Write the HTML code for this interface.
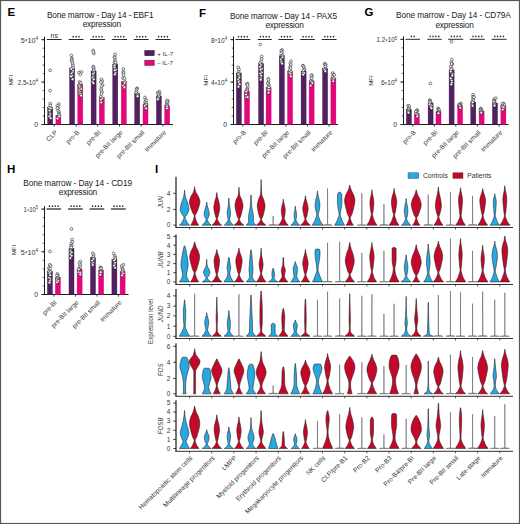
<!DOCTYPE html>
<html><head><meta charset="utf-8"><style>
html,body{margin:0;padding:0;background:#fff;}
svg{display:block;}
text{font-family:"Liberation Sans", sans-serif;}
</style></head><body>
<svg width="520" height="524" viewBox="0 0 520 524" font-family='"Liberation Sans", sans-serif'>
<rect x="0" y="0" width="520" height="524" fill="#fff"/>
<text x="7.5" y="16.4" font-size="11.5" font-weight="bold">E</text>
<text x="47.0" y="17.8" font-size="8.3" textLength="106.5" lengthAdjust="spacing" fill="#222">Bone marrow - Day 14 - EBF1</text>
<text x="82.7" y="27.2" font-size="8.3" textLength="38.4" lengthAdjust="spacing" fill="#222">expression</text>
<path d="M44.5 36.7V124.5H173" fill="none" stroke="#1a1a1a" stroke-width="1"/>
<path d="M42.7 124.5H44.5" stroke="#1a1a1a" stroke-width="0.7"/>
<path d="M42.7 116.0H44.5" stroke="#1a1a1a" stroke-width="0.7"/>
<path d="M42.7 107.5H44.5" stroke="#1a1a1a" stroke-width="0.7"/>
<path d="M42.7 99.1H44.5" stroke="#1a1a1a" stroke-width="0.7"/>
<path d="M42.7 90.6H44.5" stroke="#1a1a1a" stroke-width="0.7"/>
<path d="M42.7 82.1H44.5" stroke="#1a1a1a" stroke-width="0.7"/>
<path d="M42.7 73.6H44.5" stroke="#1a1a1a" stroke-width="0.7"/>
<path d="M42.7 65.1H44.5" stroke="#1a1a1a" stroke-width="0.7"/>
<path d="M42.7 56.7H44.5" stroke="#1a1a1a" stroke-width="0.7"/>
<path d="M42.7 48.2H44.5" stroke="#1a1a1a" stroke-width="0.7"/>
<path d="M42.7 39.7H44.5" stroke="#1a1a1a" stroke-width="0.7"/>
<path d="M41.3 39.7H44.5" stroke="#1a1a1a" stroke-width="0.9"/>
<text x="38.1" y="42.6" font-size="6.8" text-anchor="end" textLength="17.3" lengthAdjust="spacingAndGlyphs" fill="#333">5<tspan font-size="4.6" dy="-0.3">×</tspan><tspan dy="0.3">10</tspan><tspan font-size="4.6" dy="-2.8">4</tspan></text>
<path d="M41.3 82.1H44.5" stroke="#1a1a1a" stroke-width="0.9"/>
<text x="38.1" y="85.0" font-size="6.8" text-anchor="end" textLength="20.4" lengthAdjust="spacingAndGlyphs" fill="#333">2.5<tspan font-size="4.6" dy="-0.3">×</tspan><tspan dy="0.3">10</tspan><tspan font-size="4.6" dy="-2.8">4</tspan></text>
<path d="M41.3 124.5H44.5" stroke="#1a1a1a" stroke-width="0.9"/>
<text x="38.1" y="127.1" font-size="6.8" text-anchor="end" fill="#333">0</text>
<rect x="47.7" y="107.5" width="5" height="17.0" fill="#50205f" stroke="#3a1048" stroke-width="0.4"/>
<rect x="55.9" y="115.5" width="5" height="9.0" fill="#e6057f" stroke="#b8085f" stroke-width="0.4"/>
<rect x="69.6" y="68" width="5" height="56.5" fill="#50205f" stroke="#3a1048" stroke-width="0.4"/>
<rect x="77.8" y="84.5" width="5" height="40.0" fill="#e6057f" stroke="#b8085f" stroke-width="0.4"/>
<rect x="91.1" y="71" width="5" height="53.5" fill="#50205f" stroke="#3a1048" stroke-width="0.4"/>
<rect x="99.3" y="97.5" width="5" height="27.0" fill="#e6057f" stroke="#b8085f" stroke-width="0.4"/>
<rect x="112.8" y="64" width="5" height="60.5" fill="#50205f" stroke="#3a1048" stroke-width="0.4"/>
<rect x="121.3" y="81.5" width="5" height="43.0" fill="#e6057f" stroke="#b8085f" stroke-width="0.4"/>
<rect x="134.7" y="93.6" width="5" height="30.9" fill="#50205f" stroke="#3a1048" stroke-width="0.4"/>
<rect x="143.0" y="104" width="5" height="20.5" fill="#e6057f" stroke="#b8085f" stroke-width="0.4"/>
<rect x="156.4" y="96" width="5" height="28.5" fill="#50205f" stroke="#3a1048" stroke-width="0.4"/>
<rect x="164.7" y="105.5" width="5" height="19.0" fill="#e6057f" stroke="#b8085f" stroke-width="0.4"/>
<g fill="#fff" stroke="#1a1a1a" stroke-width="0.55">
<circle cx="50.2" cy="103.6" r="1.4"/><circle cx="50.3" cy="105.5" r="1.4"/><circle cx="49.2" cy="107.7" r="1.4"/><circle cx="50.8" cy="108.5" r="1.4"/><circle cx="49.6" cy="110.6" r="1.4"/><circle cx="50.0" cy="113.5" r="1.4"/><circle cx="50.1" cy="115.0" r="1.4"/><circle cx="49.4" cy="116.5" r="1.4"/><circle cx="50.8" cy="118.2" r="1.4"/>
<circle cx="58.8" cy="104.0" r="1.4"/><circle cx="57.4" cy="105.8" r="1.4"/><circle cx="58.5" cy="107.5" r="1.4"/><circle cx="57.4" cy="108.3" r="1.4"/><circle cx="58.2" cy="110.8" r="1.4"/><circle cx="59.1" cy="112.1" r="1.4"/><circle cx="59.1" cy="113.7" r="1.4"/><circle cx="58.9" cy="114.7" r="1.4"/><circle cx="59.2" cy="116.4" r="1.4"/><circle cx="57.5" cy="118.6" r="1.4"/>
<circle cx="50.1" cy="70.4" r="1.4"/>
<circle cx="50.1" cy="90.6" r="1.4"/>
<circle cx="71.4" cy="55.4" r="1.4"/><circle cx="71.9" cy="58.3" r="1.4"/><circle cx="71.6" cy="59.4" r="1.4"/><circle cx="71.8" cy="60.8" r="1.4"/><circle cx="72.2" cy="62.2" r="1.4"/><circle cx="72.8" cy="64.1" r="1.4"/><circle cx="72.9" cy="65.9" r="1.4"/><circle cx="73.0" cy="67.8" r="1.4"/><circle cx="71.3" cy="69.1" r="1.4"/><circle cx="72.9" cy="71.0" r="1.4"/><circle cx="72.1" cy="72.6" r="1.4"/><circle cx="71.4" cy="73.9" r="1.4"/><circle cx="72.1" cy="75.7" r="1.4"/><circle cx="71.1" cy="76.5" r="1.4"/><circle cx="73.0" cy="79.0" r="1.4"/><circle cx="72.6" cy="79.3" r="1.4"/>
<circle cx="79.5" cy="81.9" r="1.4"/><circle cx="80.7" cy="82.8" r="1.4"/><circle cx="79.3" cy="84.9" r="1.4"/><circle cx="79.3" cy="85.7" r="1.4"/><circle cx="79.9" cy="87.0" r="1.4"/><circle cx="81.2" cy="88.4" r="1.4"/><circle cx="81.2" cy="89.0" r="1.4"/><circle cx="79.4" cy="89.9" r="1.4"/><circle cx="79.3" cy="91.5" r="1.4"/><circle cx="80.0" cy="92.0" r="1.4"/><circle cx="79.5" cy="93.8" r="1.4"/><circle cx="80.9" cy="94.1" r="1.4"/><circle cx="81.1" cy="95.7" r="1.4"/>
<circle cx="79" cy="72.5" r="1.4"/>
<circle cx="81.5" cy="72" r="1.4"/>
<circle cx="80.3" cy="74.3" r="1.4"/>
<circle cx="93.3" cy="66.6" r="1.4"/><circle cx="93.5" cy="67.4" r="1.4"/><circle cx="93.7" cy="69.1" r="1.4"/><circle cx="93.7" cy="70.3" r="1.4"/><circle cx="93.5" cy="72.4" r="1.4"/><circle cx="93.9" cy="73.0" r="1.4"/><circle cx="93.1" cy="74.1" r="1.4"/><circle cx="93.5" cy="76.7" r="1.4"/><circle cx="92.5" cy="77.4" r="1.4"/><circle cx="93.7" cy="78.6" r="1.4"/><circle cx="93.7" cy="79.4" r="1.4"/><circle cx="92.6" cy="81.8" r="1.4"/><circle cx="93.4" cy="83.2" r="1.4"/>
<circle cx="101.4" cy="79.3" r="1.4"/><circle cx="102.2" cy="81.2" r="1.4"/><circle cx="100.8" cy="82.1" r="1.4"/><circle cx="102.6" cy="85.0" r="1.4"/><circle cx="101.6" cy="86.3" r="1.4"/><circle cx="101.3" cy="88.7" r="1.4"/><circle cx="101.3" cy="90.3" r="1.4"/><circle cx="101.9" cy="92.2" r="1.4"/><circle cx="101.5" cy="94.0" r="1.4"/><circle cx="100.8" cy="96.7" r="1.4"/><circle cx="102.2" cy="98.3" r="1.4"/><circle cx="101.1" cy="99.8" r="1.4"/><circle cx="101.2" cy="102.5" r="1.4"/>
<circle cx="93.2" cy="50.5" r="1.4"/>
<circle cx="94" cy="53.5" r="1.4"/>
<circle cx="93.3" cy="52" r="1.4"/>
<circle cx="115.1" cy="54.5" r="1.4"/><circle cx="114.4" cy="56.9" r="1.4"/><circle cx="114.9" cy="57.9" r="1.4"/><circle cx="115.1" cy="60.3" r="1.4"/><circle cx="114.5" cy="61.9" r="1.4"/><circle cx="115.5" cy="62.7" r="1.4"/><circle cx="115.1" cy="65.1" r="1.4"/><circle cx="114.4" cy="65.6" r="1.4"/><circle cx="114.6" cy="67.7" r="1.4"/><circle cx="115.9" cy="69.7" r="1.4"/><circle cx="114.8" cy="70.3" r="1.4"/><circle cx="115.5" cy="72.9" r="1.4"/><circle cx="114.9" cy="74.5" r="1.4"/>
<circle cx="123.3" cy="68.9" r="1.4"/><circle cx="123.2" cy="71.9" r="1.4"/><circle cx="123.5" cy="73.1" r="1.4"/><circle cx="123.5" cy="75.2" r="1.4"/><circle cx="123.0" cy="78.0" r="1.4"/><circle cx="124.6" cy="78.4" r="1.4"/><circle cx="124.7" cy="81.8" r="1.4"/><circle cx="124.6" cy="83.0" r="1.4"/><circle cx="123.1" cy="85.7" r="1.4"/><circle cx="124.4" cy="87.4" r="1.4"/>
<circle cx="137.1" cy="88.3" r="1.4"/><circle cx="136.8" cy="88.8" r="1.4"/><circle cx="136.2" cy="89.8" r="1.4"/><circle cx="136.7" cy="91.5" r="1.4"/><circle cx="136.2" cy="93.0" r="1.4"/><circle cx="137.5" cy="94.3" r="1.4"/><circle cx="137.9" cy="95.4" r="1.4"/><circle cx="137.3" cy="96.5" r="1.4"/><circle cx="137.6" cy="96.2" r="1.4"/>
<circle cx="145.0" cy="97.5" r="1.4"/><circle cx="145.4" cy="99.6" r="1.4"/><circle cx="146.3" cy="100.6" r="1.4"/><circle cx="145.1" cy="102.3" r="1.4"/><circle cx="146.1" cy="103.1" r="1.4"/><circle cx="146.0" cy="104.8" r="1.4"/><circle cx="144.8" cy="106.0" r="1.4"/><circle cx="146.0" cy="107.7" r="1.4"/><circle cx="146.0" cy="108.5" r="1.4"/>
<circle cx="159.4" cy="91.7" r="1.4"/><circle cx="157.8" cy="92.6" r="1.4"/><circle cx="159.5" cy="93.5" r="1.4"/><circle cx="158.3" cy="93.7" r="1.4"/><circle cx="158.9" cy="95.1" r="1.4"/><circle cx="158.7" cy="96.5" r="1.4"/><circle cx="157.8" cy="98.2" r="1.4"/><circle cx="158.1" cy="98.2" r="1.4"/><circle cx="157.9" cy="99.4" r="1.4"/>
<circle cx="167.8" cy="100.8" r="1.4"/><circle cx="167.1" cy="100.5" r="1.4"/><circle cx="166.7" cy="102.0" r="1.4"/><circle cx="167.4" cy="103.2" r="1.4"/><circle cx="166.8" cy="104.7" r="1.4"/><circle cx="166.8" cy="105.2" r="1.4"/><circle cx="167.2" cy="106.3" r="1.4"/><circle cx="166.9" cy="108.3" r="1.4"/>
</g>
<path d="M54.2 124.5v2.2" stroke="#1a1a1a" stroke-width="0.8"/>
<text transform="translate(57.8,132.9) rotate(-45)" font-size="6.5" text-anchor="end" fill="#333">CLP</text>
<path d="M76.1 124.5v2.2" stroke="#1a1a1a" stroke-width="0.8"/>
<text transform="translate(79.7,132.9) rotate(-45)" font-size="6.5" text-anchor="end" fill="#333">pro-B</text>
<path d="M97.6 124.5v2.2" stroke="#1a1a1a" stroke-width="0.8"/>
<text transform="translate(101.2,132.9) rotate(-45)" font-size="6.5" text-anchor="end" fill="#333">pre-BI</text>
<path d="M119.5 124.5v2.2" stroke="#1a1a1a" stroke-width="0.8"/>
<text transform="translate(123.0,132.9) rotate(-45)" font-size="6.5" text-anchor="end" fill="#333">pre-BII large</text>
<path d="M141.2 124.5v2.2" stroke="#1a1a1a" stroke-width="0.8"/>
<text transform="translate(144.8,132.9) rotate(-45)" font-size="6.5" text-anchor="end" fill="#333">pre-BII small</text>
<path d="M162.9 124.5v2.2" stroke="#1a1a1a" stroke-width="0.8"/>
<text transform="translate(166.5,132.9) rotate(-45)" font-size="6.5" text-anchor="end" fill="#333">immature</text>
<path d="M46.8 39.5H61.6" stroke="#2a2a2a" stroke-width="1.0"/>
<text x="54.2" y="37.9" font-size="7" text-anchor="middle" fill="#333">ns</text>
<path d="M68.7 39.5H83.5" stroke="#2a2a2a" stroke-width="1.0"/>
<ellipse cx="73.20" cy="36.65" rx="0.75" ry="0.9" fill="#2a2a2a"/>
<ellipse cx="76.10" cy="36.65" rx="0.75" ry="0.9" fill="#2a2a2a"/>
<ellipse cx="79.00" cy="36.65" rx="0.75" ry="0.9" fill="#2a2a2a"/>
<path d="M90.2 39.5H105.0" stroke="#2a2a2a" stroke-width="1.0"/>
<ellipse cx="93.25" cy="36.65" rx="0.75" ry="0.9" fill="#2a2a2a"/>
<ellipse cx="96.15" cy="36.65" rx="0.75" ry="0.9" fill="#2a2a2a"/>
<ellipse cx="99.05" cy="36.65" rx="0.75" ry="0.9" fill="#2a2a2a"/>
<ellipse cx="101.95" cy="36.65" rx="0.75" ry="0.9" fill="#2a2a2a"/>
<path d="M111.9 39.5H127.0" stroke="#2a2a2a" stroke-width="1.0"/>
<ellipse cx="115.10" cy="36.65" rx="0.75" ry="0.9" fill="#2a2a2a"/>
<ellipse cx="118.00" cy="36.65" rx="0.75" ry="0.9" fill="#2a2a2a"/>
<ellipse cx="120.90" cy="36.65" rx="0.75" ry="0.9" fill="#2a2a2a"/>
<ellipse cx="123.80" cy="36.65" rx="0.75" ry="0.9" fill="#2a2a2a"/>
<path d="M133.8 39.5H148.7" stroke="#2a2a2a" stroke-width="1.0"/>
<ellipse cx="136.90" cy="36.65" rx="0.75" ry="0.9" fill="#2a2a2a"/>
<ellipse cx="139.80" cy="36.65" rx="0.75" ry="0.9" fill="#2a2a2a"/>
<ellipse cx="142.70" cy="36.65" rx="0.75" ry="0.9" fill="#2a2a2a"/>
<ellipse cx="145.60" cy="36.65" rx="0.75" ry="0.9" fill="#2a2a2a"/>
<path d="M155.5 39.5H170.4" stroke="#2a2a2a" stroke-width="1.0"/>
<ellipse cx="158.60" cy="36.65" rx="0.75" ry="0.9" fill="#2a2a2a"/>
<ellipse cx="161.50" cy="36.65" rx="0.75" ry="0.9" fill="#2a2a2a"/>
<ellipse cx="164.40" cy="36.65" rx="0.75" ry="0.9" fill="#2a2a2a"/>
<ellipse cx="167.30" cy="36.65" rx="0.75" ry="0.9" fill="#2a2a2a"/>
<rect x="144.8" y="50.5" width="9.4" height="5.2" fill="#50205f" stroke="#2a1030" stroke-width="0.5"/>
<rect x="144.8" y="60.2" width="9.4" height="5.2" fill="#e6057f" stroke="#5a0a30" stroke-width="0.5"/>
<text x="157.2" y="55.5" font-size="6.2" font-family="&quot;Liberation Serif&quot;, serif" fill="#333">+ IL-7</text>
<text x="157.2" y="64.5" font-size="6.2" font-family="&quot;Liberation Serif&quot;, serif" fill="#333">– IL-7</text>
<text transform="translate(13.2,80) rotate(-90)" font-size="6.2" text-anchor="middle" fill="#333">MFI</text>
<text x="199" y="16.6" font-size="11.5" font-weight="bold">F</text>
<text x="229.9" y="18.8" font-size="8.3" textLength="107.1" lengthAdjust="spacing" fill="#222">Bone marrow - Day 14 - PAX5</text>
<text x="265.4" y="28.2" font-size="8.3" textLength="38.4" lengthAdjust="spacing" fill="#222">expression</text>
<path d="M233.5 36.6V124.5H338" fill="none" stroke="#1a1a1a" stroke-width="1"/>
<path d="M231.7 124.5H233.5" stroke="#1a1a1a" stroke-width="0.7"/>
<path d="M231.7 116.0H233.5" stroke="#1a1a1a" stroke-width="0.7"/>
<path d="M231.7 107.5H233.5" stroke="#1a1a1a" stroke-width="0.7"/>
<path d="M231.7 99.0H233.5" stroke="#1a1a1a" stroke-width="0.7"/>
<path d="M231.7 90.5H233.5" stroke="#1a1a1a" stroke-width="0.7"/>
<path d="M231.7 82.0H233.5" stroke="#1a1a1a" stroke-width="0.7"/>
<path d="M231.7 73.6H233.5" stroke="#1a1a1a" stroke-width="0.7"/>
<path d="M231.7 65.1H233.5" stroke="#1a1a1a" stroke-width="0.7"/>
<path d="M231.7 56.6H233.5" stroke="#1a1a1a" stroke-width="0.7"/>
<path d="M231.7 48.1H233.5" stroke="#1a1a1a" stroke-width="0.7"/>
<path d="M231.7 39.6H233.5" stroke="#1a1a1a" stroke-width="0.7"/>
<path d="M230.3 39.6H233.5" stroke="#1a1a1a" stroke-width="0.9"/>
<text x="227.1" y="42.5" font-size="6.8" text-anchor="end" textLength="16.0" lengthAdjust="spacingAndGlyphs" fill="#333">8<tspan font-size="4.6" dy="-0.3">×</tspan><tspan dy="0.3">10</tspan><tspan font-size="4.6" dy="-2.8">4</tspan></text>
<path d="M230.3 82.0H233.5" stroke="#1a1a1a" stroke-width="0.9"/>
<text x="227.1" y="85.0" font-size="6.8" text-anchor="end" textLength="16.0" lengthAdjust="spacingAndGlyphs" fill="#333">4<tspan font-size="4.6" dy="-0.3">×</tspan><tspan dy="0.3">10</tspan><tspan font-size="4.6" dy="-2.8">4</tspan></text>
<path d="M230.3 124.5H233.5" stroke="#1a1a1a" stroke-width="0.9"/>
<text x="227.1" y="127.1" font-size="6.8" text-anchor="end" fill="#333">0</text>
<rect x="236.4" y="73" width="5" height="51.5" fill="#50205f" stroke="#3a1048" stroke-width="0.4"/>
<rect x="244.5" y="91" width="5" height="33.5" fill="#e6057f" stroke="#b8085f" stroke-width="0.4"/>
<rect x="258.6" y="63.5" width="5" height="61.0" fill="#50205f" stroke="#3a1048" stroke-width="0.4"/>
<rect x="266.1" y="87.5" width="5" height="37.0" fill="#e6057f" stroke="#b8085f" stroke-width="0.4"/>
<rect x="279.3" y="55.8" width="5" height="68.7" fill="#50205f" stroke="#3a1048" stroke-width="0.4"/>
<rect x="287.6" y="71" width="5" height="53.5" fill="#e6057f" stroke="#b8085f" stroke-width="0.4"/>
<rect x="301.1" y="71" width="5" height="53.5" fill="#50205f" stroke="#3a1048" stroke-width="0.4"/>
<rect x="309.1" y="80.8" width="5" height="43.7" fill="#e6057f" stroke="#b8085f" stroke-width="0.4"/>
<rect x="322.6" y="68.3" width="5" height="56.2" fill="#50205f" stroke="#3a1048" stroke-width="0.4"/>
<rect x="330.90000000000003" y="78" width="5" height="46.5" fill="#e6057f" stroke="#b8085f" stroke-width="0.4"/>
<g fill="#fff" stroke="#1a1a1a" stroke-width="0.55">
<circle cx="238.2" cy="67.3" r="1.4"/><circle cx="239.0" cy="69.4" r="1.4"/><circle cx="238.6" cy="71.7" r="1.4"/><circle cx="239.0" cy="73.4" r="1.4"/><circle cx="238.5" cy="74.4" r="1.4"/><circle cx="239.2" cy="76.2" r="1.4"/><circle cx="239.2" cy="77.7" r="1.4"/><circle cx="238.3" cy="79.4" r="1.4"/><circle cx="239.2" cy="81.1" r="1.4"/><circle cx="238.6" cy="82.0" r="1.4"/><circle cx="239.6" cy="84.2" r="1.4"/><circle cx="238.5" cy="86.7" r="1.4"/>
<circle cx="247.5" cy="83.6" r="1.4"/><circle cx="246.8" cy="84.0" r="1.4"/><circle cx="247.5" cy="85.1" r="1.4"/><circle cx="247.7" cy="87.4" r="1.4"/><circle cx="247.2" cy="88.9" r="1.4"/><circle cx="247.0" cy="90.2" r="1.4"/><circle cx="247.1" cy="90.5" r="1.4"/><circle cx="246.2" cy="91.8" r="1.4"/><circle cx="246.0" cy="94.3" r="1.4"/><circle cx="246.1" cy="94.6" r="1.4"/><circle cx="246.3" cy="97.2" r="1.4"/><circle cx="247.6" cy="97.2" r="1.4"/>
<circle cx="261.7" cy="56.4" r="1.4"/><circle cx="261.7" cy="59.2" r="1.4"/><circle cx="261.2" cy="61.6" r="1.4"/><circle cx="260.1" cy="63.2" r="1.4"/><circle cx="261.0" cy="65.1" r="1.4"/><circle cx="260.2" cy="66.9" r="1.4"/><circle cx="261.9" cy="68.9" r="1.4"/><circle cx="260.6" cy="69.7" r="1.4"/><circle cx="261.7" cy="72.4" r="1.4"/><circle cx="260.4" cy="73.8" r="1.4"/><circle cx="261.2" cy="75.8" r="1.4"/><circle cx="260.8" cy="78.5" r="1.4"/><circle cx="260.8" cy="79.8" r="1.4"/>
<circle cx="268.3" cy="78.8" r="1.4"/><circle cx="268.5" cy="79.8" r="1.4"/><circle cx="268.3" cy="82.6" r="1.4"/><circle cx="267.8" cy="83.7" r="1.4"/><circle cx="269.0" cy="85.1" r="1.4"/><circle cx="268.5" cy="86.5" r="1.4"/><circle cx="268.8" cy="87.6" r="1.4"/><circle cx="267.8" cy="89.7" r="1.4"/><circle cx="269.0" cy="89.9" r="1.4"/><circle cx="268.5" cy="92.7" r="1.4"/>
<circle cx="260.3" cy="44.5" r="1.4"/>
<circle cx="282.1" cy="49.9" r="1.4"/><circle cx="281.2" cy="50.8" r="1.4"/><circle cx="281.9" cy="52.1" r="1.4"/><circle cx="281.2" cy="53.5" r="1.4"/><circle cx="282.6" cy="55.4" r="1.4"/><circle cx="282.1" cy="56.0" r="1.4"/><circle cx="282.4" cy="57.5" r="1.4"/><circle cx="281.2" cy="59.0" r="1.4"/><circle cx="280.7" cy="59.7" r="1.4"/><circle cx="281.5" cy="61.4" r="1.4"/><circle cx="281.4" cy="62.2" r="1.4"/><circle cx="282.2" cy="63.7" r="1.4"/>
<circle cx="291.0" cy="61.4" r="1.4"/><circle cx="290.2" cy="63.5" r="1.4"/><circle cx="290.7" cy="65.1" r="1.4"/><circle cx="290.1" cy="67.2" r="1.4"/><circle cx="290.4" cy="68.2" r="1.4"/><circle cx="289.8" cy="70.3" r="1.4"/><circle cx="290.9" cy="71.7" r="1.4"/><circle cx="289.5" cy="72.8" r="1.4"/><circle cx="290.4" cy="74.0" r="1.4"/><circle cx="290.9" cy="76.3" r="1.4"/>
<circle cx="303.0" cy="65.6" r="1.4"/><circle cx="303.0" cy="65.8" r="1.4"/><circle cx="303.9" cy="67.0" r="1.4"/><circle cx="304.3" cy="69.3" r="1.4"/><circle cx="304.2" cy="69.6" r="1.4"/><circle cx="303.3" cy="71.0" r="1.4"/><circle cx="302.7" cy="72.9" r="1.4"/><circle cx="304.2" cy="73.1" r="1.4"/><circle cx="303.2" cy="74.7" r="1.4"/>
<circle cx="311.9" cy="75.1" r="1.4"/><circle cx="311.2" cy="75.5" r="1.4"/><circle cx="311.5" cy="77.4" r="1.4"/><circle cx="311.7" cy="78.3" r="1.4"/><circle cx="311.3" cy="80.7" r="1.4"/><circle cx="310.7" cy="81.3" r="1.4"/><circle cx="311.8" cy="82.1" r="1.4"/><circle cx="312.3" cy="83.1" r="1.4"/><circle cx="310.7" cy="85.7" r="1.4"/>
<circle cx="324.7" cy="63.7" r="1.4"/><circle cx="325.5" cy="64.4" r="1.4"/><circle cx="325.4" cy="64.7" r="1.4"/><circle cx="325.6" cy="66.2" r="1.4"/><circle cx="325.5" cy="66.6" r="1.4"/><circle cx="325.3" cy="68.7" r="1.4"/><circle cx="324.2" cy="69.1" r="1.4"/><circle cx="324.7" cy="70.0" r="1.4"/><circle cx="325.4" cy="71.3" r="1.4"/>
<circle cx="332.7" cy="73.1" r="1.4"/><circle cx="333.6" cy="74.4" r="1.4"/><circle cx="334.1" cy="74.8" r="1.4"/><circle cx="332.5" cy="76.7" r="1.4"/><circle cx="332.6" cy="78.3" r="1.4"/><circle cx="333.7" cy="78.4" r="1.4"/><circle cx="333.4" cy="80.0" r="1.4"/><circle cx="333.2" cy="81.2" r="1.4"/>
</g>
<path d="M242.9 124.5v2.2" stroke="#1a1a1a" stroke-width="0.8"/>
<text transform="translate(246.5,132.9) rotate(-45)" font-size="6.5" text-anchor="end" fill="#333">pro-B</text>
<path d="M264.8 124.5v2.2" stroke="#1a1a1a" stroke-width="0.8"/>
<text transform="translate(268.4,132.9) rotate(-45)" font-size="6.5" text-anchor="end" fill="#333">pre-BI</text>
<path d="M285.9 124.5v2.2" stroke="#1a1a1a" stroke-width="0.8"/>
<text transform="translate(289.5,132.9) rotate(-45)" font-size="6.5" text-anchor="end" fill="#333">pre-BII large</text>
<path d="M307.5 124.5v2.2" stroke="#1a1a1a" stroke-width="0.8"/>
<text transform="translate(311.1,132.9) rotate(-45)" font-size="6.5" text-anchor="end" fill="#333">pre-BII small</text>
<path d="M329.1 124.5v2.2" stroke="#1a1a1a" stroke-width="0.8"/>
<text transform="translate(332.8,132.9) rotate(-45)" font-size="6.5" text-anchor="end" fill="#333">immature</text>
<path d="M235.5 39.5H250.2" stroke="#2a2a2a" stroke-width="1.0"/>
<ellipse cx="238.50" cy="36.65" rx="0.75" ry="0.9" fill="#2a2a2a"/>
<ellipse cx="241.40" cy="36.65" rx="0.75" ry="0.9" fill="#2a2a2a"/>
<ellipse cx="244.30" cy="36.65" rx="0.75" ry="0.9" fill="#2a2a2a"/>
<ellipse cx="247.20" cy="36.65" rx="0.75" ry="0.9" fill="#2a2a2a"/>
<path d="M257.7 39.5H271.8" stroke="#2a2a2a" stroke-width="1.0"/>
<ellipse cx="260.40" cy="36.65" rx="0.75" ry="0.9" fill="#2a2a2a"/>
<ellipse cx="263.30" cy="36.65" rx="0.75" ry="0.9" fill="#2a2a2a"/>
<ellipse cx="266.20" cy="36.65" rx="0.75" ry="0.9" fill="#2a2a2a"/>
<ellipse cx="269.10" cy="36.65" rx="0.75" ry="0.9" fill="#2a2a2a"/>
<path d="M278.4 39.5H293.3" stroke="#2a2a2a" stroke-width="1.0"/>
<ellipse cx="281.50" cy="36.65" rx="0.75" ry="0.9" fill="#2a2a2a"/>
<ellipse cx="284.40" cy="36.65" rx="0.75" ry="0.9" fill="#2a2a2a"/>
<ellipse cx="287.30" cy="36.65" rx="0.75" ry="0.9" fill="#2a2a2a"/>
<ellipse cx="290.20" cy="36.65" rx="0.75" ry="0.9" fill="#2a2a2a"/>
<path d="M300.2 39.5H314.8" stroke="#2a2a2a" stroke-width="1.0"/>
<ellipse cx="303.15" cy="36.65" rx="0.75" ry="0.9" fill="#2a2a2a"/>
<ellipse cx="306.05" cy="36.65" rx="0.75" ry="0.9" fill="#2a2a2a"/>
<ellipse cx="308.95" cy="36.65" rx="0.75" ry="0.9" fill="#2a2a2a"/>
<ellipse cx="311.85" cy="36.65" rx="0.75" ry="0.9" fill="#2a2a2a"/>
<path d="M321.7 39.5H336.6" stroke="#2a2a2a" stroke-width="1.0"/>
<ellipse cx="324.80" cy="36.65" rx="0.75" ry="0.9" fill="#2a2a2a"/>
<ellipse cx="327.70" cy="36.65" rx="0.75" ry="0.9" fill="#2a2a2a"/>
<ellipse cx="330.60" cy="36.65" rx="0.75" ry="0.9" fill="#2a2a2a"/>
<ellipse cx="333.50" cy="36.65" rx="0.75" ry="0.9" fill="#2a2a2a"/>
<text transform="translate(207.8,80.3) rotate(-90)" font-size="6.2" text-anchor="middle" fill="#333">MFI</text>
<text x="364.6" y="16.2" font-size="11.5" font-weight="bold">G</text>
<text x="396.0" y="18.4" font-size="8.3" textLength="114.8" lengthAdjust="spacing" fill="#222">Bone marrow - Day 14 - CD79A</text>
<text x="435.4" y="27.8" font-size="8.3" textLength="38.4" lengthAdjust="spacing" fill="#222">expression</text>
<path d="M403.5 36.4V124.5H508.5" fill="none" stroke="#1a1a1a" stroke-width="1"/>
<path d="M401.7 124.5H403.5" stroke="#1a1a1a" stroke-width="0.7"/>
<path d="M401.7 116.0H403.5" stroke="#1a1a1a" stroke-width="0.7"/>
<path d="M401.7 107.5H403.5" stroke="#1a1a1a" stroke-width="0.7"/>
<path d="M401.7 99.0H403.5" stroke="#1a1a1a" stroke-width="0.7"/>
<path d="M401.7 90.5H403.5" stroke="#1a1a1a" stroke-width="0.7"/>
<path d="M401.7 82.0H403.5" stroke="#1a1a1a" stroke-width="0.7"/>
<path d="M401.7 73.4H403.5" stroke="#1a1a1a" stroke-width="0.7"/>
<path d="M401.7 64.9H403.5" stroke="#1a1a1a" stroke-width="0.7"/>
<path d="M401.7 56.4H403.5" stroke="#1a1a1a" stroke-width="0.7"/>
<path d="M401.7 47.9H403.5" stroke="#1a1a1a" stroke-width="0.7"/>
<path d="M401.7 39.4H403.5" stroke="#1a1a1a" stroke-width="0.7"/>
<path d="M400.3 39.4H403.5" stroke="#1a1a1a" stroke-width="0.9"/>
<text x="397.1" y="42.3" font-size="6.8" text-anchor="end" textLength="20.7" lengthAdjust="spacingAndGlyphs" fill="#333">1.2<tspan font-size="4.6" dy="-0.3">×</tspan><tspan dy="0.3">10</tspan><tspan font-size="4.6" dy="-2.8">5</tspan></text>
<path d="M400.3 82.0H403.5" stroke="#1a1a1a" stroke-width="0.9"/>
<text x="397.1" y="84.9" font-size="6.8" text-anchor="end" textLength="16.2" lengthAdjust="spacingAndGlyphs" fill="#333">6<tspan font-size="4.6" dy="-0.3">×</tspan><tspan dy="0.3">10</tspan><tspan font-size="4.6" dy="-2.8">4</tspan></text>
<path d="M400.3 124.5H403.5" stroke="#1a1a1a" stroke-width="0.9"/>
<text x="397.1" y="127.1" font-size="6.8" text-anchor="end" fill="#333">0</text>
<rect x="406.40000000000003" y="109.7" width="5" height="14.8" fill="#50205f" stroke="#3a1048" stroke-width="0.4"/>
<rect x="414.3" y="113.3" width="5" height="11.2" fill="#e6057f" stroke="#b8085f" stroke-width="0.4"/>
<rect x="428.1" y="103" width="5" height="21.5" fill="#50205f" stroke="#3a1048" stroke-width="0.4"/>
<rect x="436.0" y="111.5" width="5" height="13.0" fill="#e6057f" stroke="#b8085f" stroke-width="0.4"/>
<rect x="449.1" y="70" width="5" height="54.5" fill="#50205f" stroke="#3a1048" stroke-width="0.4"/>
<rect x="457.6" y="105.4" width="5" height="19.1" fill="#e6057f" stroke="#b8085f" stroke-width="0.4"/>
<rect x="470.8" y="102" width="5" height="22.5" fill="#50205f" stroke="#3a1048" stroke-width="0.4"/>
<rect x="479.1" y="111" width="5" height="13.5" fill="#e6057f" stroke="#b8085f" stroke-width="0.4"/>
<rect x="492.5" y="103" width="5" height="21.5" fill="#50205f" stroke="#3a1048" stroke-width="0.4"/>
<rect x="500.90000000000003" y="106.5" width="5" height="18.0" fill="#e6057f" stroke="#b8085f" stroke-width="0.4"/>
<g fill="#fff" stroke="#1a1a1a" stroke-width="0.55">
<circle cx="408.2" cy="105.7" r="1.4"/><circle cx="409.2" cy="106.2" r="1.4"/><circle cx="408.9" cy="108.2" r="1.4"/><circle cx="408.5" cy="109.0" r="1.4"/><circle cx="408.6" cy="109.1" r="1.4"/><circle cx="407.9" cy="111.0" r="1.4"/><circle cx="408.3" cy="111.3" r="1.4"/><circle cx="408.5" cy="112.6" r="1.4"/><circle cx="408.6" cy="112.7" r="1.4"/>
<circle cx="417.2" cy="110.1" r="1.4"/><circle cx="417.4" cy="110.6" r="1.4"/><circle cx="416.2" cy="111.1" r="1.4"/><circle cx="415.9" cy="111.9" r="1.4"/><circle cx="417.2" cy="113.9" r="1.4"/><circle cx="416.1" cy="113.8" r="1.4"/><circle cx="417.2" cy="115.0" r="1.4"/><circle cx="417.2" cy="116.5" r="1.4"/>
<circle cx="429.8" cy="100.1" r="1.4"/><circle cx="429.9" cy="100.8" r="1.4"/><circle cx="430.6" cy="102.0" r="1.4"/><circle cx="430.0" cy="102.5" r="1.4"/><circle cx="429.6" cy="104.5" r="1.4"/><circle cx="431.3" cy="105.5" r="1.4"/><circle cx="430.3" cy="106.7" r="1.4"/><circle cx="430.7" cy="107.1" r="1.4"/><circle cx="431.5" cy="108.2" r="1.4"/>
<circle cx="438.0" cy="108.3" r="1.4"/><circle cx="438.4" cy="109.4" r="1.4"/><circle cx="438.9" cy="109.9" r="1.4"/><circle cx="438.9" cy="109.8" r="1.4"/><circle cx="438.4" cy="111.7" r="1.4"/><circle cx="438.3" cy="112.3" r="1.4"/><circle cx="438.5" cy="112.7" r="1.4"/><circle cx="438.4" cy="113.3" r="1.4"/>
<circle cx="430.4" cy="83.5" r="1.4"/>
<circle cx="451.4" cy="62.2" r="1.4"/><circle cx="452.4" cy="64.1" r="1.4"/><circle cx="450.8" cy="66.6" r="1.4"/><circle cx="451.7" cy="68.5" r="1.4"/><circle cx="451.2" cy="69.3" r="1.4"/><circle cx="450.7" cy="71.6" r="1.4"/><circle cx="452.4" cy="74.1" r="1.4"/><circle cx="452.2" cy="75.7" r="1.4"/><circle cx="450.8" cy="78.3" r="1.4"/><circle cx="451.7" cy="80.6" r="1.4"/><circle cx="451.9" cy="82.7" r="1.4"/><circle cx="451.2" cy="84.4" r="1.4"/>
<circle cx="460.9" cy="103.5" r="1.4"/><circle cx="459.9" cy="104.3" r="1.4"/><circle cx="460.0" cy="104.8" r="1.4"/><circle cx="459.1" cy="104.5" r="1.4"/><circle cx="459.4" cy="105.2" r="1.4"/><circle cx="460.0" cy="106.0" r="1.4"/><circle cx="460.1" cy="107.6" r="1.4"/><circle cx="460.3" cy="107.9" r="1.4"/>
<circle cx="451.5" cy="41.7" r="1.4"/>
<circle cx="451.8" cy="59.5" r="1.4"/>
<circle cx="451.5" cy="64" r="1.4"/>
<circle cx="473.1" cy="94.7" r="1.4"/><circle cx="473.0" cy="96.8" r="1.4"/><circle cx="474.0" cy="97.2" r="1.4"/><circle cx="472.9" cy="99.5" r="1.4"/><circle cx="473.3" cy="100.3" r="1.4"/><circle cx="472.6" cy="102.0" r="1.4"/><circle cx="472.6" cy="102.5" r="1.4"/><circle cx="472.5" cy="105.1" r="1.4"/><circle cx="472.6" cy="105.9" r="1.4"/>
<circle cx="480.8" cy="108.5" r="1.4"/><circle cx="480.8" cy="109.4" r="1.4"/><circle cx="480.7" cy="109.4" r="1.4"/><circle cx="481.5" cy="110.2" r="1.4"/><circle cx="480.5" cy="110.6" r="1.4"/><circle cx="481.3" cy="111.8" r="1.4"/><circle cx="480.6" cy="112.8" r="1.4"/><circle cx="481.3" cy="112.8" r="1.4"/>
<circle cx="495.8" cy="98.2" r="1.4"/><circle cx="494.1" cy="99.4" r="1.4"/><circle cx="494.2" cy="100.7" r="1.4"/><circle cx="494.6" cy="101.8" r="1.4"/><circle cx="494.0" cy="101.9" r="1.4"/><circle cx="494.5" cy="103.7" r="1.4"/><circle cx="494.8" cy="104.7" r="1.4"/><circle cx="494.5" cy="105.8" r="1.4"/><circle cx="494.4" cy="105.6" r="1.4"/>
<circle cx="503.6" cy="103.5" r="1.4"/><circle cx="502.5" cy="103.6" r="1.4"/><circle cx="504.2" cy="105.0" r="1.4"/><circle cx="502.3" cy="105.7" r="1.4"/><circle cx="502.5" cy="105.7" r="1.4"/><circle cx="502.4" cy="106.8" r="1.4"/><circle cx="503.6" cy="107.4" r="1.4"/><circle cx="502.7" cy="109.6" r="1.4"/>
</g>
<path d="M412.8 124.5v2.2" stroke="#1a1a1a" stroke-width="0.8"/>
<text transform="translate(416.4,132.9) rotate(-45)" font-size="6.5" text-anchor="end" fill="#333">pro-B</text>
<path d="M434.4 124.5v2.2" stroke="#1a1a1a" stroke-width="0.8"/>
<text transform="translate(438.1,132.9) rotate(-45)" font-size="6.5" text-anchor="end" fill="#333">pre-BI</text>
<path d="M455.8 124.5v2.2" stroke="#1a1a1a" stroke-width="0.8"/>
<text transform="translate(459.4,132.9) rotate(-45)" font-size="6.5" text-anchor="end" fill="#333">pre-BII large</text>
<path d="M477.4 124.5v2.2" stroke="#1a1a1a" stroke-width="0.8"/>
<text transform="translate(481.0,132.9) rotate(-45)" font-size="6.5" text-anchor="end" fill="#333">pre-BII small</text>
<path d="M499.1 124.5v2.2" stroke="#1a1a1a" stroke-width="0.8"/>
<text transform="translate(502.7,132.9) rotate(-45)" font-size="6.5" text-anchor="end" fill="#333">immature</text>
<path d="M405.5 39.3H420.0" stroke="#2a2a2a" stroke-width="1.0"/>
<ellipse cx="411.30" cy="36.449999999999996" rx="0.75" ry="0.9" fill="#2a2a2a"/>
<ellipse cx="414.20" cy="36.449999999999996" rx="0.75" ry="0.9" fill="#2a2a2a"/>
<path d="M427.2 39.3H441.7" stroke="#2a2a2a" stroke-width="1.0"/>
<ellipse cx="430.10" cy="36.449999999999996" rx="0.75" ry="0.9" fill="#2a2a2a"/>
<ellipse cx="433.00" cy="36.449999999999996" rx="0.75" ry="0.9" fill="#2a2a2a"/>
<ellipse cx="435.90" cy="36.449999999999996" rx="0.75" ry="0.9" fill="#2a2a2a"/>
<ellipse cx="438.80" cy="36.449999999999996" rx="0.75" ry="0.9" fill="#2a2a2a"/>
<path d="M448.2 39.3H463.3" stroke="#2a2a2a" stroke-width="1.0"/>
<ellipse cx="451.40" cy="36.449999999999996" rx="0.75" ry="0.9" fill="#2a2a2a"/>
<ellipse cx="454.30" cy="36.449999999999996" rx="0.75" ry="0.9" fill="#2a2a2a"/>
<ellipse cx="457.20" cy="36.449999999999996" rx="0.75" ry="0.9" fill="#2a2a2a"/>
<ellipse cx="460.10" cy="36.449999999999996" rx="0.75" ry="0.9" fill="#2a2a2a"/>
<path d="M469.9 39.3H484.8" stroke="#2a2a2a" stroke-width="1.0"/>
<ellipse cx="473.00" cy="36.449999999999996" rx="0.75" ry="0.9" fill="#2a2a2a"/>
<ellipse cx="475.90" cy="36.449999999999996" rx="0.75" ry="0.9" fill="#2a2a2a"/>
<ellipse cx="478.80" cy="36.449999999999996" rx="0.75" ry="0.9" fill="#2a2a2a"/>
<ellipse cx="481.70" cy="36.449999999999996" rx="0.75" ry="0.9" fill="#2a2a2a"/>
<path d="M491.6 39.3H506.6" stroke="#2a2a2a" stroke-width="1.0"/>
<ellipse cx="494.75" cy="36.449999999999996" rx="0.75" ry="0.9" fill="#2a2a2a"/>
<ellipse cx="497.65" cy="36.449999999999996" rx="0.75" ry="0.9" fill="#2a2a2a"/>
<ellipse cx="500.55" cy="36.449999999999996" rx="0.75" ry="0.9" fill="#2a2a2a"/>
<ellipse cx="503.45" cy="36.449999999999996" rx="0.75" ry="0.9" fill="#2a2a2a"/>
<text transform="translate(373,80.5) rotate(-90)" font-size="6.2" text-anchor="middle" fill="#333">MFI</text>
<text x="7" y="172.9" font-size="11.5" font-weight="bold">H</text>
<text x="23.2" y="185.8" font-size="8.3" textLength="108.9" lengthAdjust="spacing" fill="#222">Bone marrow - Day 14 - CD19</text>
<text x="58.8" y="195.2" font-size="8.3" textLength="38.4" lengthAdjust="spacing" fill="#222">expression</text>
<path d="M44.5 206.1V294.5H128.5" fill="none" stroke="#1a1a1a" stroke-width="1"/>
<path d="M42.7 294.5H44.5" stroke="#1a1a1a" stroke-width="0.7"/>
<path d="M42.7 286.0H44.5" stroke="#1a1a1a" stroke-width="0.7"/>
<path d="M42.7 277.4H44.5" stroke="#1a1a1a" stroke-width="0.7"/>
<path d="M42.7 268.9H44.5" stroke="#1a1a1a" stroke-width="0.7"/>
<path d="M42.7 260.3H44.5" stroke="#1a1a1a" stroke-width="0.7"/>
<path d="M42.7 251.8H44.5" stroke="#1a1a1a" stroke-width="0.7"/>
<path d="M42.7 243.3H44.5" stroke="#1a1a1a" stroke-width="0.7"/>
<path d="M42.7 234.7H44.5" stroke="#1a1a1a" stroke-width="0.7"/>
<path d="M42.7 226.2H44.5" stroke="#1a1a1a" stroke-width="0.7"/>
<path d="M42.7 217.6H44.5" stroke="#1a1a1a" stroke-width="0.7"/>
<path d="M42.7 209.1H44.5" stroke="#1a1a1a" stroke-width="0.7"/>
<path d="M41.3 209.1H44.5" stroke="#1a1a1a" stroke-width="0.9"/>
<text x="38.1" y="212.0" font-size="6.8" text-anchor="end" textLength="14.5" lengthAdjust="spacingAndGlyphs" fill="#333">1<tspan font-size="4.6" dy="-0.3">×</tspan><tspan dy="0.3">10</tspan><tspan font-size="4.6" dy="-2.8">5</tspan></text>
<path d="M41.3 251.8H44.5" stroke="#1a1a1a" stroke-width="0.9"/>
<text x="38.1" y="254.7" font-size="6.8" text-anchor="end" textLength="17.3" lengthAdjust="spacingAndGlyphs" fill="#333">5<tspan font-size="4.6" dy="-0.3">×</tspan><tspan dy="0.3">10</tspan><tspan font-size="4.6" dy="-2.8">4</tspan></text>
<path d="M41.3 294.5H44.5" stroke="#1a1a1a" stroke-width="0.9"/>
<text x="38.1" y="297.1" font-size="6.8" text-anchor="end" fill="#333">0</text>
<rect x="47.4" y="271" width="5" height="23.5" fill="#50205f" stroke="#3a1048" stroke-width="0.4"/>
<rect x="55.4" y="277.3" width="5" height="17.2" fill="#e6057f" stroke="#b8085f" stroke-width="0.4"/>
<rect x="69.0" y="248.5" width="5" height="46.0" fill="#50205f" stroke="#3a1048" stroke-width="0.4"/>
<rect x="77.1" y="269" width="5" height="25.5" fill="#e6057f" stroke="#b8085f" stroke-width="0.4"/>
<rect x="90.5" y="257.7" width="5" height="36.8" fill="#50205f" stroke="#3a1048" stroke-width="0.4"/>
<rect x="98.6" y="270" width="5" height="24.5" fill="#e6057f" stroke="#b8085f" stroke-width="0.4"/>
<rect x="111.89999999999999" y="259.5" width="5" height="35.0" fill="#50205f" stroke="#3a1048" stroke-width="0.4"/>
<rect x="120.1" y="271.5" width="5" height="23.0" fill="#e6057f" stroke="#b8085f" stroke-width="0.4"/>
<g fill="#fff" stroke="#1a1a1a" stroke-width="0.55">
<circle cx="49.8" cy="264.8" r="1.4"/><circle cx="50.6" cy="266.1" r="1.4"/><circle cx="48.9" cy="268.0" r="1.4"/><circle cx="50.0" cy="268.6" r="1.4"/><circle cx="49.0" cy="271.3" r="1.4"/><circle cx="50.5" cy="271.9" r="1.4"/><circle cx="49.6" cy="273.2" r="1.4"/><circle cx="50.2" cy="275.2" r="1.4"/><circle cx="49.1" cy="277.8" r="1.4"/><circle cx="50.3" cy="279.1" r="1.4"/><circle cx="49.9" cy="280.9" r="1.4"/><circle cx="49.5" cy="282.7" r="1.4"/>
<circle cx="57.3" cy="273.9" r="1.4"/><circle cx="57.8" cy="275.4" r="1.4"/><circle cx="57.1" cy="275.6" r="1.4"/><circle cx="58.0" cy="277.4" r="1.4"/><circle cx="57.6" cy="278.3" r="1.4"/><circle cx="57.1" cy="279.0" r="1.4"/><circle cx="56.8" cy="280.3" r="1.4"/><circle cx="58.3" cy="280.9" r="1.4"/><circle cx="57.0" cy="282.3" r="1.4"/>
<circle cx="50" cy="251.5" r="1.4"/>
<circle cx="72.1" cy="239.6" r="1.4"/><circle cx="72.2" cy="241.9" r="1.4"/><circle cx="71.3" cy="243.9" r="1.4"/><circle cx="71.9" cy="245.5" r="1.4"/><circle cx="71.1" cy="246.3" r="1.4"/><circle cx="71.2" cy="247.5" r="1.4"/><circle cx="70.6" cy="250.5" r="1.4"/><circle cx="70.6" cy="251.6" r="1.4"/><circle cx="71.7" cy="252.4" r="1.4"/><circle cx="70.5" cy="254.3" r="1.4"/><circle cx="71.7" cy="255.8" r="1.4"/><circle cx="70.4" cy="258.1" r="1.4"/>
<circle cx="80.4" cy="261.6" r="1.4"/><circle cx="79.6" cy="263.2" r="1.4"/><circle cx="80.1" cy="265.1" r="1.4"/><circle cx="80.1" cy="267.0" r="1.4"/><circle cx="78.9" cy="268.6" r="1.4"/><circle cx="78.7" cy="269.6" r="1.4"/><circle cx="78.7" cy="272.3" r="1.4"/><circle cx="80.4" cy="272.6" r="1.4"/><circle cx="80.3" cy="274.5" r="1.4"/>
<circle cx="71.5" cy="229" r="1.4"/>
<circle cx="92.8" cy="253.3" r="1.4"/><circle cx="93.6" cy="254.9" r="1.4"/><circle cx="93.2" cy="256.9" r="1.4"/><circle cx="93.6" cy="258.5" r="1.4"/><circle cx="93.1" cy="259.3" r="1.4"/><circle cx="92.1" cy="260.8" r="1.4"/><circle cx="93.1" cy="262.8" r="1.4"/><circle cx="92.3" cy="264.1" r="1.4"/><circle cx="92.8" cy="265.1" r="1.4"/>
<circle cx="100.2" cy="267.4" r="1.4"/><circle cx="101.0" cy="267.9" r="1.4"/><circle cx="101.1" cy="268.6" r="1.4"/><circle cx="100.8" cy="270.8" r="1.4"/><circle cx="101.2" cy="271.8" r="1.4"/><circle cx="100.7" cy="272.3" r="1.4"/><circle cx="100.7" cy="274.7" r="1.4"/><circle cx="100.2" cy="274.9" r="1.4"/>
<circle cx="113.6" cy="253.5" r="1.4"/><circle cx="114.8" cy="256.3" r="1.4"/><circle cx="115.3" cy="257.8" r="1.4"/><circle cx="115.2" cy="259.1" r="1.4"/><circle cx="114.1" cy="260.6" r="1.4"/><circle cx="115.1" cy="262.8" r="1.4"/><circle cx="114.3" cy="264.5" r="1.4"/><circle cx="114.1" cy="265.8" r="1.4"/><circle cx="115.1" cy="267.8" r="1.4"/>
<circle cx="123.4" cy="264.7" r="1.4"/><circle cx="121.7" cy="265.9" r="1.4"/><circle cx="122.1" cy="268.2" r="1.4"/><circle cx="122.8" cy="269.3" r="1.4"/><circle cx="123.0" cy="270.0" r="1.4"/><circle cx="122.4" cy="271.8" r="1.4"/><circle cx="123.0" cy="273.3" r="1.4"/><circle cx="122.1" cy="275.4" r="1.4"/>
</g>
<path d="M53.8 294.5v2.2" stroke="#1a1a1a" stroke-width="0.8"/>
<text transform="translate(57.4,302.9) rotate(-45)" font-size="6.5" text-anchor="end" fill="#333">pre-BI</text>
<path d="M75.5 294.5v2.2" stroke="#1a1a1a" stroke-width="0.8"/>
<text transform="translate(79.0,302.9) rotate(-45)" font-size="6.5" text-anchor="end" fill="#333">pre-BII large</text>
<path d="M97.0 294.5v2.2" stroke="#1a1a1a" stroke-width="0.8"/>
<text transform="translate(100.5,302.9) rotate(-45)" font-size="6.5" text-anchor="end" fill="#333">pre-BII small</text>
<path d="M118.4 294.5v2.2" stroke="#1a1a1a" stroke-width="0.8"/>
<text transform="translate(122.0,302.9) rotate(-45)" font-size="6.5" text-anchor="end" fill="#333">immature</text>
<path d="M46.5 209.0H61.1" stroke="#6a6a6a" stroke-width="1.8"/>
<ellipse cx="49.45" cy="206.15" rx="0.75" ry="0.9" fill="#2a2a2a"/>
<ellipse cx="52.35" cy="206.15" rx="0.75" ry="0.9" fill="#2a2a2a"/>
<ellipse cx="55.25" cy="206.15" rx="0.75" ry="0.9" fill="#2a2a2a"/>
<ellipse cx="58.15" cy="206.15" rx="0.75" ry="0.9" fill="#2a2a2a"/>
<path d="M68.1 209.0H82.8" stroke="#6a6a6a" stroke-width="1.8"/>
<ellipse cx="71.10" cy="206.15" rx="0.75" ry="0.9" fill="#2a2a2a"/>
<ellipse cx="74.00" cy="206.15" rx="0.75" ry="0.9" fill="#2a2a2a"/>
<ellipse cx="76.90" cy="206.15" rx="0.75" ry="0.9" fill="#2a2a2a"/>
<ellipse cx="79.80" cy="206.15" rx="0.75" ry="0.9" fill="#2a2a2a"/>
<path d="M89.6 209.0H104.3" stroke="#6a6a6a" stroke-width="1.8"/>
<ellipse cx="92.60" cy="206.15" rx="0.75" ry="0.9" fill="#2a2a2a"/>
<ellipse cx="95.50" cy="206.15" rx="0.75" ry="0.9" fill="#2a2a2a"/>
<ellipse cx="98.40" cy="206.15" rx="0.75" ry="0.9" fill="#2a2a2a"/>
<ellipse cx="101.30" cy="206.15" rx="0.75" ry="0.9" fill="#2a2a2a"/>
<path d="M111.0 209.0H125.8" stroke="#6a6a6a" stroke-width="1.8"/>
<ellipse cx="114.05" cy="206.15" rx="0.75" ry="0.9" fill="#2a2a2a"/>
<ellipse cx="116.95" cy="206.15" rx="0.75" ry="0.9" fill="#2a2a2a"/>
<ellipse cx="119.85" cy="206.15" rx="0.75" ry="0.9" fill="#2a2a2a"/>
<ellipse cx="122.75" cy="206.15" rx="0.75" ry="0.9" fill="#2a2a2a"/>
<text transform="translate(15.8,250) rotate(-90)" font-size="6.2" text-anchor="middle" fill="#333">MFI</text>
<text x="155" y="172.6" font-size="11.5" font-weight="bold">I</text>
<rect x="408" y="172.8" width="10.8" height="5.6" fill="#27a8e1" stroke="#333" stroke-width="0.4"/>
<text x="423" y="178" font-size="6.7" fill="#333">Controls</text>
<rect x="452.9" y="172.8" width="10.1" height="5.6" fill="#c4082a" stroke="#333" stroke-width="0.4"/>
<text x="467.3" y="178" font-size="6.7" fill="#333">Patients</text>
<text transform="translate(152.6,321.6) rotate(-90)" font-size="7" text-anchor="middle" textLength="44.7" lengthAdjust="spacingAndGlyphs" fill="#333">Expression level</text>
<path d="M176.0 176.8V227.5" fill="none" stroke="#2e2e2e" stroke-width="1.3"/>
<path d="M175.35 227.5H513" fill="none" stroke="#1a1a1a" stroke-width="0.9"/>
<path d="M173.2 225.1H176.0" stroke="#1a1a1a" stroke-width="0.8"/>
<text x="170.4" y="227.4" font-size="6.5" text-anchor="end" fill="#333">0</text>
<path d="M173.2 209.4H176.0" stroke="#1a1a1a" stroke-width="0.8"/>
<text x="170.4" y="211.7" font-size="6.5" text-anchor="end" fill="#333">2</text>
<path d="M173.2 193.3H176.0" stroke="#1a1a1a" stroke-width="0.8"/>
<text x="170.4" y="195.6" font-size="6.5" text-anchor="end" fill="#333">4</text>
<text transform="translate(163.2,202.2) rotate(-90)" font-size="6.3" font-style="italic" text-anchor="middle" fill="#333">JUN</text>
<path d="M189.6 227.5v2" stroke="#1a1a1a" stroke-width="0.7"/>
<path d="M211.8 227.5v2" stroke="#1a1a1a" stroke-width="0.7"/>
<path d="M233.9 227.5v2" stroke="#1a1a1a" stroke-width="0.7"/>
<path d="M256.1 227.5v2" stroke="#1a1a1a" stroke-width="0.7"/>
<path d="M278.2 227.5v2" stroke="#1a1a1a" stroke-width="0.7"/>
<path d="M300.4 227.5v2" stroke="#1a1a1a" stroke-width="0.7"/>
<path d="M322.5 227.5v2" stroke="#1a1a1a" stroke-width="0.7"/>
<path d="M344.7 227.5v2" stroke="#1a1a1a" stroke-width="0.7"/>
<path d="M366.9 227.5v2" stroke="#1a1a1a" stroke-width="0.7"/>
<path d="M389.0 227.5v2" stroke="#1a1a1a" stroke-width="0.7"/>
<path d="M411.2 227.5v2" stroke="#1a1a1a" stroke-width="0.7"/>
<path d="M433.3 227.5v2" stroke="#1a1a1a" stroke-width="0.7"/>
<path d="M455.5 227.5v2" stroke="#1a1a1a" stroke-width="0.7"/>
<path d="M477.6 227.5v2" stroke="#1a1a1a" stroke-width="0.7"/>
<path d="M499.8 227.5v2" stroke="#1a1a1a" stroke-width="0.7"/>
<path d="M184.6,190.1 184.8,193.1 185.4,196.6 186.0,198.6 187.2,201.6 187.7,203.1 188.6,207.1 188.9,208.6 188.9,209.6 188.8,210.6 188.7,211.1 188.2,212.1 187.2,214.1 186.6,215.1 186.3,215.6 185.2,216.6 185.1,217.1 185.1,217.6 185.3,218.6 185.7,219.6 187.0,222.1 187.3,222.6 188.1,223.6 189.5,225.2 L179.5,225.2 181.0,223.6 181.8,222.6 182.1,222.1 183.4,219.6 183.8,218.6 184.0,217.6 184.0,217.1 183.9,216.6 182.8,215.6 182.5,215.1 181.9,214.1 180.9,212.1 180.4,211.1 180.3,210.6 180.2,209.6 180.2,208.6 180.5,207.1 181.4,203.1 181.9,201.6 183.1,198.6 183.7,196.6 184.3,193.1 184.5,190.1Z M206.7,202.1 207.0,204.1 207.4,206.1 208.6,210.1 209.1,212.6 209.3,214.1 209.3,215.1 209.1,215.6 208.1,218.1 207.9,218.6 207.4,219.1 207.3,219.6 207.4,220.1 207.8,221.1 208.7,222.6 209.1,223.1 210.0,224.1 211.3,225.2 L202.1,225.2 203.4,224.1 204.3,223.1 204.7,222.6 205.6,221.1 206.0,220.1 206.1,219.6 206.0,219.1 205.6,218.6 205.3,218.1 204.3,215.6 204.2,215.1 204.1,214.1 204.3,212.6 204.8,210.1 206.0,206.1 206.4,204.1 206.7,202.1Z M228.9,198.0 229.0,201.0 229.4,205.0 229.5,206.0 230.1,209.0 230.5,211.5 230.6,212.5 230.5,213.5 230.5,214.5 230.0,217.5 229.6,219.0 229.6,219.5 229.6,220.0 230.0,221.0 231.2,223.0 232.2,224.0 233.6,225.2 L224.2,225.2 225.6,224.0 226.5,223.0 227.7,221.0 228.1,220.0 228.2,219.5 228.1,219.0 227.7,217.5 227.3,214.5 227.2,213.5 227.2,212.5 227.3,211.5 227.7,209.0 228.2,206.0 228.4,205.0 228.7,201.0 228.8,198.0Z M251.3,195.2 251.4,200.2 251.7,206.2 252.1,208.7 253.1,213.7 253.5,216.2 253.5,217.7 253.4,221.7 253.6,222.2 253.8,222.7 254.1,223.2 255.0,224.2 256.0,225.2 L246.0,225.2 247.1,224.2 247.9,223.2 248.3,222.7 248.5,222.2 248.6,221.7 248.5,217.7 248.6,216.2 248.9,213.7 249.9,208.7 250.3,206.2 250.7,200.2 250.8,195.2Z M295.4,206.2 295.7,209.2 296.2,211.7 296.6,214.7 296.6,216.2 296.3,218.2 296.1,219.2 296.0,219.7 296.1,220.2 296.5,221.2 297.4,222.7 297.7,223.2 298.6,224.2 299.7,225.2 L290.9,225.2 292.0,224.2 293.0,223.2 293.3,222.7 294.2,221.2 294.5,220.2 294.6,219.7 294.6,219.2 294.4,218.2 294.1,216.2 294.1,214.7 294.4,211.7 295.0,209.2 295.3,206.2Z M317.5,190.9 317.7,192.9 318.1,195.4 319.0,198.9 319.3,200.4 319.7,202.9 319.9,204.9 319.9,205.9 319.8,206.9 319.2,210.4 318.8,212.4 318.4,213.4 318.3,213.9 318.4,215.4 318.9,217.4 320.2,220.9 320.8,221.9 321.4,222.9 323.0,225.2 L312.0,225.2 313.6,222.9 314.2,221.9 314.7,220.9 316.1,217.4 316.6,215.4 316.7,213.9 316.6,213.4 316.2,212.4 315.8,210.4 315.2,206.9 315.1,205.9 315.1,204.9 315.3,202.9 315.7,200.4 316.0,198.9 316.9,195.4 317.2,192.9 317.5,190.9Z M340.4,192.3 341.0,192.8 341.4,193.3 341.7,194.8 341.8,196.8 341.8,202.8 341.8,203.8 341.7,205.3 340.3,213.3 340.3,214.3 340.3,215.3 340.7,216.8 342.0,220.3 343.2,222.8 344.6,225.2 L334.6,225.2 336.1,222.8 337.3,220.3 338.6,216.8 339.0,215.3 339.0,214.3 339.0,213.3 337.6,205.3 337.5,203.8 337.4,202.8 337.5,196.8 337.6,194.8 337.9,193.3 338.3,192.8 338.8,192.3Z M406.2,198.5 406.3,200.5 406.6,202.5 407.5,206.5 407.8,209.0 407.9,210.5 407.9,212.0 407.5,215.0 407.1,217.0 406.7,218.5 406.7,219.0 406.8,219.5 407.2,220.5 408.3,222.5 409.1,223.5 410.0,224.5 410.8,225.2 L401.4,225.2 402.2,224.5 403.2,223.5 404.0,222.5 405.0,220.5 405.4,219.5 405.5,219.0 405.5,218.5 405.1,217.0 404.8,215.0 404.4,212.0 404.3,210.5 404.4,209.0 404.8,206.5 405.6,202.5 405.9,200.5 406.1,198.5Z M494.8,193.8 495.2,196.3 495.9,198.8 496.1,200.3 496.2,201.3 496.2,203.8 495.8,209.3 495.6,212.3 495.3,214.3 495.3,215.8 495.5,216.8 495.8,217.8 497.0,221.3 497.5,222.3 498.1,223.3 499.3,225.2 L490.1,225.2 491.4,223.3 492.0,222.3 492.5,221.3 493.7,217.8 494.0,216.8 494.2,215.8 494.2,214.3 493.9,212.3 493.7,209.3 493.3,203.8 493.3,201.3 493.3,200.3 493.6,198.8 494.3,196.3 494.7,193.8Z" fill="#27a8e1" stroke="#1e1e1e" stroke-width="0.55" stroke-linejoin="round"/>
<path d="M194.7,186.7 194.9,188.7 195.7,191.7 195.9,192.2 196.4,193.2 198.0,195.7 198.5,196.7 199.6,199.7 199.9,201.2 199.9,202.7 199.6,204.2 199.2,205.7 197.9,209.7 197.3,211.2 196.7,212.7 196.4,213.2 195.4,214.7 195.1,215.2 195.1,215.7 195.1,216.7 195.3,217.7 195.7,219.2 196.4,221.2 196.9,222.2 197.4,223.2 198.7,225.2 L190.7,225.2 191.9,223.2 192.4,222.2 192.9,221.2 193.6,219.2 194.0,217.7 194.2,216.7 194.2,215.7 194.2,215.2 193.9,214.7 192.9,213.2 192.6,212.7 192.0,211.2 191.4,209.7 190.1,205.7 189.7,204.2 189.4,202.7 189.4,201.2 189.7,199.7 190.8,196.7 191.3,195.7 192.9,193.2 193.4,192.2 193.6,191.7 194.4,188.7 194.6,186.7Z M216.8,192.5 217.2,195.0 217.6,197.5 218.7,201.0 219.1,202.5 219.6,205.5 219.8,207.5 219.7,209.0 219.4,211.0 218.6,214.5 218.2,216.0 218.1,216.5 217.4,218.0 217.3,218.5 217.3,219.0 217.5,219.5 217.9,220.5 219.0,222.5 219.8,223.5 220.8,224.5 221.6,225.2 L212.0,225.2 212.8,224.5 213.8,223.5 214.6,222.5 215.7,220.5 216.1,219.5 216.3,219.0 216.3,218.5 216.2,218.0 215.5,216.5 215.4,216.0 215.0,214.5 214.2,211.0 213.9,209.0 213.8,207.5 214.0,205.5 214.6,202.5 214.9,201.0 216.0,197.5 216.4,195.0 216.8,192.5Z M239.0,187.1 239.1,189.1 239.2,191.1 239.7,195.1 240.2,196.6 241.4,199.1 241.8,200.1 242.7,203.6 242.9,204.6 243.0,205.6 242.9,207.1 242.6,208.6 241.4,214.1 240.6,216.6 240.4,217.1 239.6,218.6 239.5,219.1 239.5,219.6 239.6,220.1 239.8,220.6 240.3,221.6 241.0,222.6 241.4,223.1 241.9,223.6 242.4,224.1 243.9,225.2 L234.1,225.2 235.5,224.1 236.0,223.6 236.5,223.1 236.9,222.6 237.6,221.6 238.2,220.6 238.4,220.1 238.5,219.6 238.4,219.1 238.3,218.6 237.5,217.1 237.3,216.6 236.6,214.1 235.3,208.6 235.1,207.1 235.0,205.6 235.0,204.6 235.2,203.6 236.1,200.1 236.5,199.1 237.8,196.6 238.3,195.1 238.7,191.1 238.9,189.1 238.9,187.1Z M261.2,179.6 261.2,183.6 261.3,187.6 261.6,192.1 261.8,194.6 262.2,196.1 263.5,199.1 264.0,200.6 264.8,204.1 265.0,205.1 265.0,206.1 265.0,207.1 264.8,208.6 263.5,214.1 262.8,216.6 262.6,217.1 261.8,218.6 261.7,219.1 261.6,219.6 261.7,220.1 261.9,220.6 262.5,221.6 263.1,222.6 263.5,223.1 264.0,223.6 264.5,224.1 265.9,225.2 L256.3,225.2 257.7,224.1 258.3,223.6 258.7,223.1 259.1,222.6 259.8,221.6 260.3,220.6 260.5,220.1 260.6,219.6 260.6,219.1 260.4,218.6 259.6,217.1 259.4,216.6 258.7,214.1 257.5,208.6 257.3,207.1 257.2,206.1 257.3,205.1 257.4,204.1 258.2,200.6 258.7,199.1 260.0,196.1 260.4,194.6 260.7,192.1 260.9,187.6 261.0,183.6 261.1,179.6Z M283.3,199.2 283.5,200.7 283.8,202.7 284.7,206.2 285.1,208.7 285.3,210.2 285.2,211.7 284.9,214.7 284.6,216.7 284.3,217.7 284.3,218.2 284.3,218.7 284.5,219.2 284.8,220.2 285.8,222.2 286.1,222.7 286.9,223.7 288.3,225.2 L278.3,225.2 279.7,223.7 280.4,222.7 280.8,222.2 281.7,220.2 282.1,219.2 282.2,218.7 282.3,218.2 282.3,217.7 282.0,216.7 281.7,214.7 281.3,211.7 281.3,210.2 281.4,208.7 281.9,206.2 282.8,202.7 283.1,200.7 283.2,199.2Z M305.5,195.9 305.8,197.9 306.2,199.9 307.4,203.9 308.0,206.9 308.1,208.4 308.1,209.9 307.8,211.4 306.9,215.9 306.6,216.9 306.1,217.9 306.0,218.4 305.9,218.9 306.0,219.4 306.2,219.9 306.7,220.9 307.6,222.4 308.0,222.9 308.9,223.9 310.4,225.2 L300.4,225.2 302.0,223.9 302.9,222.9 303.3,222.4 304.2,220.9 304.7,219.9 304.8,219.4 304.9,218.9 304.9,218.4 304.7,217.9 304.3,216.9 304.0,215.9 303.1,211.4 302.8,209.9 302.7,208.4 302.9,206.9 303.5,203.9 304.7,199.9 305.1,197.9 305.4,195.9Z M349.8,185.1 350.2,187.1 351.0,189.6 351.7,191.1 353.0,193.6 353.5,194.6 354.5,197.6 354.7,198.6 354.9,199.6 354.9,201.1 354.7,203.1 354.3,205.1 353.1,210.1 352.5,212.6 351.8,214.6 350.5,217.1 350.4,217.6 350.4,218.1 350.4,218.6 350.6,219.6 351.5,222.1 352.3,223.6 353.4,225.2 L346.0,225.2 347.2,223.6 348.0,222.1 348.9,219.6 349.1,218.6 349.1,218.1 349.1,217.6 349.0,217.1 347.7,214.6 347.0,212.6 346.4,210.1 345.2,205.1 344.8,203.1 344.6,201.1 344.6,199.6 344.8,198.6 345.0,197.6 346.0,194.6 346.5,193.6 347.8,191.1 348.5,189.6 349.3,187.1 349.7,185.1Z M371.9,189.8 372.4,193.8 373.4,198.3 373.8,201.3 373.9,202.8 373.8,205.3 373.3,209.3 373.0,211.8 372.5,213.8 372.6,215.3 373.1,217.3 374.3,220.8 374.8,221.8 375.4,222.8 377.0,225.2 L366.8,225.2 368.4,222.8 369.0,221.8 369.5,220.8 370.7,217.3 371.2,215.3 371.3,213.8 370.8,211.8 370.5,209.3 370.0,205.3 369.9,202.8 370.0,201.3 370.4,198.3 371.4,193.8 371.9,189.8Z M394.1,188.5 394.4,190.5 394.8,193.0 395.9,196.5 396.3,198.5 396.7,200.5 396.8,202.0 396.6,204.5 395.7,210.0 395.4,212.0 394.7,214.0 394.7,214.5 394.7,215.5 394.9,216.5 395.2,217.5 396.5,221.0 396.9,222.0 397.5,223.0 399.1,225.2 L389.1,225.2 390.6,223.0 391.2,222.0 391.7,221.0 392.9,217.5 393.2,216.5 393.4,215.5 393.5,214.5 393.4,214.0 392.8,212.0 392.4,210.0 391.5,204.5 391.4,202.0 391.5,200.5 391.8,198.5 392.2,196.5 393.3,193.0 393.8,190.5 394.0,188.5Z M416.3,189.8 416.7,191.8 417.5,194.3 417.9,195.3 419.3,197.8 419.7,198.8 420.7,201.8 421.0,202.8 421.2,203.8 421.2,205.3 421.0,206.8 420.6,208.3 419.3,212.3 418.8,213.8 418.2,215.3 417.9,215.8 416.9,217.3 416.7,217.8 416.8,218.8 417.0,219.8 418.0,222.3 418.9,223.8 419.9,225.2 L412.5,225.2 413.6,223.8 414.5,222.3 415.4,219.8 415.7,218.8 415.7,217.8 415.5,217.3 414.5,215.8 414.2,215.3 413.6,213.8 413.1,212.3 411.9,208.3 411.5,206.8 411.2,205.3 411.3,203.8 411.4,202.8 411.7,201.8 412.7,198.8 413.2,197.8 414.5,195.3 414.9,194.3 415.7,191.8 416.2,189.8Z M438.4,187.1 438.7,190.1 439.2,193.1 440.6,199.1 441.2,203.1 441.4,205.6 441.4,206.6 441.2,208.1 440.3,212.1 439.7,214.6 439.0,216.1 438.9,216.6 438.9,217.1 439.1,218.1 439.4,219.1 440.5,221.6 441.4,223.1 442.1,224.1 443.1,225.2 L433.7,225.2 434.6,224.1 435.4,223.1 436.3,221.6 437.4,219.1 437.7,218.1 437.9,217.1 437.9,216.6 437.8,216.1 437.1,214.6 436.4,212.1 435.6,208.1 435.4,206.6 435.4,205.6 435.6,203.1 436.2,199.1 437.6,193.1 438.0,190.1 438.3,187.1Z M460.6,187.8 460.8,189.8 461.1,191.8 461.8,194.8 462.0,195.8 462.4,198.3 462.5,199.8 462.5,201.8 462.3,204.3 461.7,211.3 461.5,212.8 461.2,214.8 461.1,215.3 461.2,216.3 461.4,217.3 461.7,218.3 462.9,221.3 463.4,222.3 464.1,223.3 465.5,225.2 L455.5,225.2 457.0,223.3 457.6,222.3 458.2,221.3 459.4,218.3 459.7,217.3 459.9,216.3 459.9,215.3 459.9,214.8 459.5,212.8 459.4,211.3 458.7,204.3 458.6,201.8 458.5,199.8 458.6,198.3 459.0,195.8 459.2,194.8 460.0,191.8 460.3,189.8 460.5,187.8Z M482.7,188.5 483.1,190.5 483.5,192.5 484.6,195.5 484.9,196.5 485.4,199.0 485.6,200.5 485.5,202.0 485.4,203.5 484.5,209.5 484.0,212.5 483.3,214.5 483.2,215.0 483.2,215.5 483.3,216.5 483.5,217.5 483.8,218.5 485.1,221.5 486.0,223.0 486.7,224.0 487.7,225.2 L477.7,225.2 478.7,224.0 479.4,223.0 480.3,221.5 481.5,218.5 481.9,217.5 482.1,216.5 482.2,215.5 482.2,215.0 482.1,214.5 481.4,212.5 480.9,209.5 480.0,203.5 479.8,202.0 479.8,200.5 479.9,199.0 480.5,196.5 480.8,195.5 481.9,192.5 482.3,190.5 482.7,188.5Z M504.9,185.8 505.1,187.8 505.4,190.3 506.3,194.3 506.7,197.3 506.8,198.8 506.8,200.8 506.6,203.8 505.9,211.3 505.8,212.3 505.4,214.8 505.3,215.3 505.4,216.3 505.6,217.3 506.0,218.3 507.2,221.3 507.8,222.3 508.5,223.3 510.0,225.2 L499.6,225.2 501.2,223.3 501.9,222.3 502.5,221.3 503.7,218.3 504.1,217.3 504.3,216.3 504.3,215.3 504.3,214.8 503.9,212.3 503.8,211.3 503.1,203.8 502.9,200.8 502.9,198.8 503.0,197.3 503.4,194.3 504.3,190.3 504.6,187.8 504.8,185.8Z" fill="#c4082a" stroke="#1e1e1e" stroke-width="0.55" stroke-linejoin="round"/>
<path d="M273.2,216.0 273.2,224.5 277.6,225.0 277.7,225.2 L268.7,225.2 268.8,225.0 273.1,224.5 273.1,216.0Z M327.6,188.5 327.7,224.5 332.0,225.0 332.1,225.2 L323.1,225.2 323.2,225.0 327.5,224.5 327.5,188.5Z M361.9,193.2 361.9,224.7 366.3,225.2 L357.3,225.2 361.7,224.7 361.8,193.2Z M384.0,204.0 384.0,224.5 388.3,225.0 388.5,225.2 L379.5,225.2 379.6,225.0 383.9,224.5 383.9,204.0Z M428.3,194.5 428.3,224.5 432.7,225.0 432.8,225.2 L423.8,225.2 423.9,225.0 428.2,224.5 428.2,194.5Z M450.5,191.8 450.5,224.3 451.5,224.8 454.9,225.2 L445.9,225.2 449.3,224.8 450.4,224.3 450.4,191.8Z M472.6,195.9 472.7,224.4 476.8,224.9 477.1,225.2 L468.1,225.2 468.4,224.9 472.5,224.4 472.5,195.9Z" fill="#888" stroke="#6a6a6a" stroke-width="0.6" stroke-linejoin="round"/>
<path d="M176.0 234.6V284.5" fill="none" stroke="#2e2e2e" stroke-width="1.3"/>
<path d="M175.35 284.5H513" fill="none" stroke="#1a1a1a" stroke-width="0.9"/>
<path d="M173.2 281.9H176.0" stroke="#1a1a1a" stroke-width="0.8"/>
<text x="170.4" y="284.2" font-size="6.5" text-anchor="end" fill="#333">0</text>
<path d="M173.2 272.7H176.0" stroke="#1a1a1a" stroke-width="0.8"/>
<text x="170.4" y="275.0" font-size="6.5" text-anchor="end" fill="#333">1</text>
<path d="M173.2 263.6H176.0" stroke="#1a1a1a" stroke-width="0.8"/>
<text x="170.4" y="265.9" font-size="6.5" text-anchor="end" fill="#333">2</text>
<path d="M173.2 254.4H176.0" stroke="#1a1a1a" stroke-width="0.8"/>
<text x="170.4" y="256.7" font-size="6.5" text-anchor="end" fill="#333">3</text>
<path d="M173.2 245.2H176.0" stroke="#1a1a1a" stroke-width="0.8"/>
<text x="170.4" y="247.5" font-size="6.5" text-anchor="end" fill="#333">4</text>
<path d="M173.2 236.3H176.0" stroke="#1a1a1a" stroke-width="0.8"/>
<text x="170.4" y="238.6" font-size="6.5" text-anchor="end" fill="#333">5</text>
<text transform="translate(163.2,259.6) rotate(-90)" font-size="6.3" font-style="italic" text-anchor="middle" fill="#333">JUNB</text>
<path d="M189.6 284.5v2" stroke="#1a1a1a" stroke-width="0.7"/>
<path d="M211.8 284.5v2" stroke="#1a1a1a" stroke-width="0.7"/>
<path d="M233.9 284.5v2" stroke="#1a1a1a" stroke-width="0.7"/>
<path d="M256.1 284.5v2" stroke="#1a1a1a" stroke-width="0.7"/>
<path d="M278.2 284.5v2" stroke="#1a1a1a" stroke-width="0.7"/>
<path d="M300.4 284.5v2" stroke="#1a1a1a" stroke-width="0.7"/>
<path d="M322.5 284.5v2" stroke="#1a1a1a" stroke-width="0.7"/>
<path d="M344.7 284.5v2" stroke="#1a1a1a" stroke-width="0.7"/>
<path d="M366.9 284.5v2" stroke="#1a1a1a" stroke-width="0.7"/>
<path d="M389.0 284.5v2" stroke="#1a1a1a" stroke-width="0.7"/>
<path d="M411.2 284.5v2" stroke="#1a1a1a" stroke-width="0.7"/>
<path d="M433.3 284.5v2" stroke="#1a1a1a" stroke-width="0.7"/>
<path d="M455.5 284.5v2" stroke="#1a1a1a" stroke-width="0.7"/>
<path d="M477.6 284.5v2" stroke="#1a1a1a" stroke-width="0.7"/>
<path d="M499.8 284.5v2" stroke="#1a1a1a" stroke-width="0.7"/>
<path d="M184.8,245.9 185.9,249.9 186.6,253.4 187.7,259.9 188.1,263.4 188.1,264.9 188.1,266.4 187.8,267.9 186.7,272.9 186.6,274.4 186.6,275.9 186.9,276.9 187.4,278.4 188.3,279.9 189.5,281.9 L179.5,281.9 180.8,279.9 181.7,278.4 182.2,276.9 182.5,275.9 182.5,274.4 182.4,272.9 181.3,267.9 181.0,266.4 181.0,264.9 181.0,263.4 181.4,259.9 182.5,253.4 183.2,249.9 184.2,245.9Z M206.7,259.3 206.9,262.8 207.1,264.8 207.4,266.3 207.8,267.3 208.8,268.8 209.0,269.3 209.7,271.3 209.9,272.3 209.9,272.8 209.8,273.3 208.7,275.8 208.1,276.8 207.6,277.3 207.3,277.8 207.4,278.3 207.7,278.8 208.0,279.3 208.9,280.3 209.5,280.8 210.2,281.3 211.2,281.9 L202.2,281.9 203.2,281.3 203.9,280.8 204.5,280.3 205.4,279.3 205.7,278.8 206.0,278.3 206.1,277.8 205.8,277.3 205.3,276.8 204.7,275.8 203.7,273.3 203.5,272.8 203.5,272.3 203.7,271.3 204.4,269.3 204.6,268.8 205.6,267.3 206.0,266.3 206.3,264.8 206.5,262.8 206.7,259.3Z M229.2,257.6 230.5,266.1 230.7,267.6 230.6,269.1 230.0,271.6 229.9,272.6 229.9,273.6 230.0,274.6 230.4,276.1 230.7,277.1 231.2,278.1 231.8,279.1 232.4,280.1 233.8,281.9 L224.0,281.9 225.3,280.1 226.0,279.1 226.5,278.1 227.0,277.1 227.4,276.1 227.7,274.6 227.8,273.6 227.8,272.6 227.7,271.6 227.2,269.1 227.1,267.6 227.2,266.1 228.6,257.6Z M251.3,249.9 252.1,257.9 253.0,268.9 253.0,270.4 253.0,271.4 252.4,275.4 252.3,276.4 252.4,276.9 252.7,277.9 253.2,278.9 253.6,279.4 254.5,280.4 255.9,281.9 L246.1,281.9 247.6,280.4 248.4,279.4 248.8,278.9 249.4,277.9 249.7,276.9 249.7,276.4 249.7,275.4 249.1,271.4 249.0,270.4 249.1,268.9 249.9,257.9 250.7,249.9Z M273.5,268.4 274.1,270.9 274.4,272.9 274.5,274.9 274.2,277.4 274.2,278.4 274.4,278.9 274.8,279.4 275.3,279.9 276.5,280.9 277.9,281.9 L268.5,281.9 269.9,280.9 271.1,279.9 271.6,279.4 271.9,278.9 272.1,278.4 272.2,277.4 271.9,274.9 271.9,272.9 272.2,270.9 272.9,268.4Z M295.4,261.6 295.8,263.6 296.2,264.6 296.9,266.1 297.3,267.6 297.5,268.6 297.5,269.6 297.4,270.6 297.0,274.1 296.7,275.6 296.6,276.1 296.7,276.6 297.0,277.6 298.0,279.6 298.8,280.6 300.0,281.9 L290.6,281.9 291.9,280.6 292.6,279.6 293.7,277.6 294.0,276.6 294.0,276.1 294.0,275.6 293.7,274.1 293.2,270.6 293.2,269.6 293.2,268.6 293.3,267.6 293.8,266.1 294.5,264.6 294.8,263.6 295.3,261.6Z M319.1,249.1 319.7,249.6 319.8,250.1 320.0,252.1 320.0,254.1 319.8,256.6 319.3,260.6 318.4,265.6 318.1,268.6 318.1,270.6 318.5,272.1 320.1,276.6 321.1,279.1 322.5,281.9 L312.5,281.9 313.9,279.1 314.9,276.6 316.5,272.1 316.9,270.6 316.8,268.6 316.5,265.6 315.7,260.6 315.2,256.6 315.0,254.1 315.0,252.1 315.2,250.1 315.3,249.6 315.9,249.1Z M406.2,254.9 406.6,258.9 407.3,262.4 407.5,263.4 407.8,265.9 407.9,267.4 407.9,268.4 407.7,269.9 407.2,273.4 406.7,275.4 406.7,275.9 406.9,276.4 407.3,277.4 408.5,279.4 409.3,280.4 411.0,281.9 L401.2,281.9 402.9,280.4 403.8,279.4 405.0,277.4 405.4,276.4 405.5,275.9 405.5,275.4 405.0,273.4 404.5,269.9 404.3,268.4 404.3,267.4 404.4,265.9 404.7,263.4 404.9,262.4 405.6,258.9 406.1,254.9Z M428.3,244.0 428.7,249.5 429.6,255.5 429.9,259.0 430.1,261.5 430.1,263.0 429.9,265.0 429.3,270.0 428.9,272.0 428.9,273.0 429.1,274.0 429.3,275.0 430.4,278.0 430.9,279.0 431.5,280.0 432.9,281.9 L423.7,281.9 425.0,280.0 425.6,279.0 426.1,278.0 427.2,275.0 427.5,274.0 427.6,273.0 427.6,272.0 427.2,270.0 426.7,265.0 426.5,263.0 426.5,261.5 426.6,259.0 426.9,255.5 427.8,249.5 428.2,244.0Z M494.8,241.2 495.0,243.2 495.5,245.7 496.5,249.2 496.8,250.2 497.2,252.7 497.4,254.7 497.4,256.7 497.1,259.7 496.5,264.2 496.1,266.7 495.9,267.7 495.4,269.7 495.3,270.2 495.4,271.2 495.5,272.2 495.9,273.7 497.0,277.2 497.9,279.2 499.5,281.9 L489.9,281.9 491.6,279.2 492.5,277.2 493.6,273.7 494.0,272.2 494.1,271.2 494.1,270.2 494.1,269.7 493.6,267.7 493.4,266.7 493.0,264.2 492.4,259.7 492.1,256.7 492.1,254.7 492.3,252.7 492.7,250.2 492.9,249.2 494.0,245.7 494.5,243.2 494.7,241.2Z" fill="#27a8e1" stroke="#1e1e1e" stroke-width="0.55" stroke-linejoin="round"/>
<path d="M194.7,241.8 195.3,244.3 196.1,246.8 196.5,247.8 197.9,250.3 198.3,251.3 199.2,254.3 199.5,255.3 199.6,256.3 199.6,257.8 199.3,259.8 199.0,261.3 197.7,266.3 197.1,268.3 196.6,269.8 196.4,270.3 195.5,271.8 195.3,272.3 195.2,272.8 195.2,273.8 195.4,274.8 195.9,276.3 196.6,278.3 197.4,279.8 198.8,281.9 L190.5,281.9 191.9,279.8 192.7,278.3 193.4,276.3 193.9,274.8 194.1,273.8 194.1,272.8 194.0,272.3 193.8,271.8 192.9,270.3 192.7,269.8 192.2,268.3 191.6,266.3 190.3,261.3 190.0,259.8 189.7,257.8 189.7,256.3 189.8,255.3 190.1,254.3 191.0,251.3 191.4,250.3 192.8,247.8 193.2,246.8 194.0,244.3 194.6,241.8Z M216.8,249.5 217.1,251.0 217.5,253.0 217.8,254.0 218.6,256.0 218.9,257.0 219.5,259.5 219.6,261.0 219.4,263.5 218.7,268.5 218.1,271.5 217.3,274.0 217.3,274.5 217.4,275.0 217.5,275.5 217.9,276.5 218.4,277.5 219.2,279.0 219.6,279.5 220.5,280.5 222.0,281.9 L211.6,281.9 213.1,280.5 214.0,279.5 214.4,279.0 215.2,277.5 215.8,276.5 216.1,275.5 216.3,275.0 216.3,274.5 216.3,274.0 215.5,271.5 214.9,268.5 214.2,263.5 214.0,261.0 214.1,259.5 214.7,257.0 215.0,256.0 215.8,254.0 216.1,253.0 216.5,251.0 216.8,249.5Z M239.0,248.2 239.3,250.2 239.8,252.2 240.1,253.2 241.1,255.7 241.4,256.7 242.0,259.2 242.2,260.7 242.1,262.2 241.9,263.7 241.0,268.7 240.4,271.7 239.6,273.7 239.5,274.2 239.5,274.7 239.5,275.2 239.8,276.2 240.3,277.2 241.0,278.7 241.3,279.2 242.1,280.2 243.7,281.9 L234.3,281.9 235.9,280.2 236.6,279.2 236.9,278.7 237.7,277.2 238.1,276.2 238.4,275.2 238.5,274.7 238.5,274.2 238.3,273.7 237.6,271.7 236.9,268.7 236.0,263.7 235.8,262.2 235.8,260.7 235.9,259.2 236.5,256.7 236.8,255.7 237.8,253.2 238.1,252.2 238.6,250.2 238.9,248.2Z M261.2,248.2 261.3,251.2 261.7,255.7 262.5,259.7 262.9,262.2 263.1,264.2 263.0,266.2 262.4,269.7 262.1,271.2 261.7,272.7 261.7,273.7 261.9,274.7 262.2,275.7 263.3,278.2 264.3,279.7 265.1,280.7 266.1,281.9 L256.1,281.9 257.2,280.7 258.0,279.7 258.9,278.2 260.0,275.7 260.4,274.7 260.6,273.7 260.6,272.7 260.1,271.2 259.8,269.7 259.3,266.2 259.1,264.2 259.3,262.2 259.7,259.7 260.5,255.7 260.9,251.2 261.1,248.2Z M283.6,257.6 283.7,261.1 283.9,265.1 284.1,266.1 285.1,269.1 285.3,270.1 285.2,271.6 284.5,275.1 284.5,276.1 284.5,276.6 284.8,277.6 285.0,278.1 285.6,279.1 286.8,280.6 288.0,281.9 L278.6,281.9 279.8,280.6 280.9,279.1 281.5,278.1 281.8,277.6 282.0,276.6 282.1,276.1 282.0,275.1 281.4,271.6 281.3,270.1 281.5,269.1 282.5,266.1 282.7,265.1 282.9,261.1 283.0,257.6Z M305.5,249.5 305.7,251.5 306.2,254.0 307.4,258.5 308.0,261.5 308.1,263.5 308.0,265.5 307.3,269.5 306.7,272.0 306.0,274.0 305.9,274.5 306.0,275.0 306.1,275.5 306.4,276.5 307.5,279.0 307.9,279.5 308.6,280.5 309.8,281.9 L301.0,281.9 302.3,280.5 303.0,279.5 303.3,279.0 304.5,276.5 304.8,275.5 304.9,275.0 304.9,274.5 304.9,274.0 304.1,272.0 303.6,269.5 302.9,265.5 302.7,263.5 302.9,261.5 303.4,258.5 304.7,254.0 305.1,251.5 305.4,249.5Z M349.8,242.4 350.3,245.4 351.0,248.4 351.5,249.9 352.7,252.9 353.1,254.4 354.0,258.4 354.2,259.9 354.2,260.9 354.2,261.9 354.0,263.4 352.5,268.9 352.1,270.4 351.5,271.9 350.6,273.4 350.3,273.9 350.2,274.4 350.3,274.9 350.4,275.4 350.7,276.4 352.0,278.9 352.4,279.4 353.2,280.4 354.7,281.9 L344.7,281.9 346.3,280.4 347.1,279.4 347.5,278.9 348.8,276.4 349.1,275.4 349.2,274.9 349.2,274.4 349.2,273.9 348.9,273.4 348.0,271.9 347.4,270.4 347.0,268.9 345.5,263.4 345.3,261.9 345.2,260.9 345.3,259.9 345.5,258.4 346.4,254.4 346.8,252.9 348.0,249.9 348.5,248.4 349.2,245.4 349.7,242.4Z M371.9,242.4 372.1,244.4 372.5,246.9 373.6,251.9 374.0,254.9 374.1,256.9 374.0,258.9 373.8,261.4 373.1,267.4 372.9,268.4 372.5,270.4 372.4,270.9 372.5,271.9 372.6,272.9 372.9,273.9 374.0,277.4 374.5,278.4 375.0,279.4 376.6,281.9 L367.2,281.9 368.8,279.4 369.3,278.4 369.8,277.4 371.0,273.9 371.2,272.9 371.4,271.9 371.4,270.9 371.4,270.4 370.9,268.4 370.7,267.4 370.0,261.4 369.8,258.9 369.7,256.9 369.8,254.9 370.3,251.9 371.3,246.9 371.7,244.4 371.9,242.4Z M395.1,247.5 395.7,248.0 396.1,248.5 396.1,260.0 395.9,262.0 395.0,267.5 394.9,269.0 395.0,271.0 395.4,273.5 396.2,276.0 396.8,277.5 397.5,279.0 399.1,281.9 L389.1,281.9 390.6,279.0 391.3,277.5 391.9,276.0 392.7,273.5 393.1,271.0 393.3,269.0 393.2,267.5 392.2,262.0 392.1,260.0 392.1,248.5 392.4,248.0 393.1,247.5Z M416.3,244.8 416.7,247.3 417.4,249.8 417.9,251.3 419.3,254.3 419.9,255.8 420.8,259.3 421.2,261.3 421.2,262.8 421.0,264.3 420.6,265.8 419.4,269.8 418.9,271.3 418.3,272.8 418.1,273.3 417.1,274.8 416.8,275.3 416.7,275.8 416.8,276.3 417.0,277.3 417.9,279.3 418.6,280.3 420.0,281.9 L412.4,281.9 413.8,280.3 414.5,279.3 415.4,277.3 415.7,276.3 415.7,275.8 415.6,275.3 415.4,274.8 414.3,273.3 414.1,272.8 413.5,271.3 413.0,269.8 411.8,265.8 411.4,264.3 411.2,262.8 411.3,261.3 411.6,259.3 412.6,255.8 413.2,254.3 414.5,251.3 415.0,249.8 415.7,247.3 416.2,244.8Z M438.4,241.2 438.8,243.2 439.5,245.7 439.8,246.7 441.2,249.7 441.6,250.7 442.4,253.7 442.6,254.7 442.7,255.7 442.6,257.2 442.4,259.2 441.1,265.2 440.7,267.2 440.1,269.2 439.0,271.7 438.9,272.2 438.9,273.2 439.1,274.2 439.5,275.2 440.8,278.2 441.8,279.7 442.5,280.7 443.6,281.9 L433.2,281.9 434.2,280.7 435.0,279.7 436.0,278.2 437.3,275.2 437.6,274.2 437.8,273.2 437.9,272.2 437.8,271.7 436.6,269.2 436.1,267.2 435.6,265.2 434.4,259.2 434.1,257.2 434.1,255.7 434.2,254.7 434.4,253.7 435.2,250.7 435.5,249.7 436.9,246.7 437.3,245.7 438.0,243.2 438.3,241.2Z M460.6,238.7 460.9,243.2 461.7,248.2 462.1,251.7 462.2,253.7 462.1,257.2 461.7,263.2 461.4,266.7 461.0,269.2 461.1,270.7 461.3,271.7 461.6,273.2 463.0,277.2 464.0,279.2 465.7,281.9 L455.3,281.9 457.1,279.2 458.1,277.2 459.4,273.2 459.8,271.7 460.0,270.7 460.0,269.2 459.7,266.7 459.4,263.2 458.9,257.2 458.8,253.7 459.0,251.7 459.3,248.2 460.1,243.2 460.5,238.7Z M482.7,245.2 483.1,249.7 483.9,254.2 484.3,257.2 484.4,259.2 484.3,261.2 483.9,265.7 483.6,267.7 483.2,269.7 483.3,271.2 483.5,272.2 483.9,273.7 485.1,277.2 485.6,278.2 486.1,279.2 487.1,280.7 487.9,281.9 L477.5,281.9 478.3,280.7 479.3,279.2 479.8,278.2 480.3,277.2 481.5,273.7 481.9,272.2 482.1,271.2 482.2,269.7 481.8,267.7 481.5,265.7 481.1,261.2 481.0,259.2 481.1,257.2 481.4,254.2 482.2,249.7 482.7,245.2Z M504.9,236.0 505.2,238.0 505.6,240.5 506.7,244.0 507.0,245.0 507.6,248.0 507.7,250.0 507.7,252.0 507.6,254.0 506.8,261.0 506.1,266.0 505.4,269.0 505.3,270.0 505.4,271.0 505.6,272.0 505.9,273.5 507.0,277.0 507.5,278.0 508.0,279.0 508.8,280.5 509.7,281.9 L499.9,281.9 500.9,280.5 501.7,279.0 502.2,278.0 502.6,277.0 503.8,273.5 504.1,272.0 504.3,271.0 504.3,270.0 504.3,269.0 503.6,266.0 502.9,261.0 502.1,254.0 502.0,252.0 501.9,250.0 502.1,248.0 502.7,245.0 502.9,244.0 504.1,240.5 504.5,238.0 504.8,236.0Z" fill="#c4082a" stroke="#1e1e1e" stroke-width="0.55" stroke-linejoin="round"/>
<path d="M327.6,242.8 327.7,281.3 332.1,281.8 332.1,281.9 L323.1,281.9 323.1,281.8 327.5,281.3 327.5,242.8Z M339.7,241.8 339.7,281.3 344.1,281.8 344.1,281.9 L335.1,281.9 335.2,281.8 339.6,281.3 339.6,241.8Z M361.9,252.9 361.9,281.4 366.3,281.9 L357.3,281.9 361.7,281.4 361.8,252.9Z M384.0,250.9 384.0,281.4 388.5,281.9 L379.5,281.9 383.9,281.4 383.9,250.9Z M450.5,238.7 450.5,281.2 454.8,281.7 454.9,281.9 L445.9,281.9 446.1,281.7 450.4,281.2 450.4,238.7Z M472.6,250.8 472.7,281.3 477.1,281.8 477.1,281.9 L468.1,281.9 468.1,281.8 472.5,281.3 472.5,250.8Z" fill="#888" stroke="#6a6a6a" stroke-width="0.6" stroke-linejoin="round"/>
<path d="M176.0 289V338.5" fill="none" stroke="#2e2e2e" stroke-width="1.3"/>
<path d="M175.35 338.5H513" fill="none" stroke="#1a1a1a" stroke-width="0.9"/>
<path d="M173.2 336.3H176.0" stroke="#1a1a1a" stroke-width="0.8"/>
<text x="170.4" y="338.6" font-size="6.5" text-anchor="end" fill="#333">0</text>
<path d="M173.2 326.2H176.0" stroke="#1a1a1a" stroke-width="0.8"/>
<text x="170.4" y="328.5" font-size="6.5" text-anchor="end" fill="#333">1</text>
<path d="M173.2 315.9H176.0" stroke="#1a1a1a" stroke-width="0.8"/>
<text x="170.4" y="318.2" font-size="6.5" text-anchor="end" fill="#333">2</text>
<path d="M173.2 306H176.0" stroke="#1a1a1a" stroke-width="0.8"/>
<text x="170.4" y="308.3" font-size="6.5" text-anchor="end" fill="#333">3</text>
<path d="M173.2 295.9H176.0" stroke="#1a1a1a" stroke-width="0.8"/>
<text x="170.4" y="298.2" font-size="6.5" text-anchor="end" fill="#333">4</text>
<text transform="translate(163.2,313.8) rotate(-90)" font-size="6.3" font-style="italic" text-anchor="middle" fill="#333">JUND</text>
<path d="M189.6 338.5v2" stroke="#1a1a1a" stroke-width="0.7"/>
<path d="M211.8 338.5v2" stroke="#1a1a1a" stroke-width="0.7"/>
<path d="M233.9 338.5v2" stroke="#1a1a1a" stroke-width="0.7"/>
<path d="M256.1 338.5v2" stroke="#1a1a1a" stroke-width="0.7"/>
<path d="M278.2 338.5v2" stroke="#1a1a1a" stroke-width="0.7"/>
<path d="M300.4 338.5v2" stroke="#1a1a1a" stroke-width="0.7"/>
<path d="M322.5 338.5v2" stroke="#1a1a1a" stroke-width="0.7"/>
<path d="M344.7 338.5v2" stroke="#1a1a1a" stroke-width="0.7"/>
<path d="M366.9 338.5v2" stroke="#1a1a1a" stroke-width="0.7"/>
<path d="M389.0 338.5v2" stroke="#1a1a1a" stroke-width="0.7"/>
<path d="M411.2 338.5v2" stroke="#1a1a1a" stroke-width="0.7"/>
<path d="M433.3 338.5v2" stroke="#1a1a1a" stroke-width="0.7"/>
<path d="M455.5 338.5v2" stroke="#1a1a1a" stroke-width="0.7"/>
<path d="M477.6 338.5v2" stroke="#1a1a1a" stroke-width="0.7"/>
<path d="M499.8 338.5v2" stroke="#1a1a1a" stroke-width="0.7"/>
<path d="M184.6,299.8 185.3,306.3 185.7,309.8 185.8,311.8 185.7,319.3 185.2,324.8 185.2,325.8 185.2,326.8 185.7,328.3 186.7,330.8 187.1,331.8 188.2,333.8 189.8,336.3 L179.2,336.3 180.9,333.8 182.0,331.8 182.4,330.8 183.4,328.3 183.9,326.8 183.9,325.8 183.9,324.8 183.4,319.3 183.3,311.8 183.4,309.8 183.8,306.3 184.5,299.8Z M206.7,312.6 206.9,314.1 207.2,315.6 208.1,318.6 208.5,320.6 208.7,322.1 208.7,323.1 208.6,324.1 208.0,327.6 207.9,328.1 207.6,329.1 207.5,329.6 207.6,330.1 207.7,330.6 208.1,331.6 209.2,333.6 209.9,334.6 210.9,335.6 211.6,336.3 L201.8,336.3 202.5,335.6 203.5,334.6 204.3,333.6 205.3,331.6 205.7,330.6 205.9,330.1 205.9,329.6 205.8,329.1 205.5,328.1 205.4,327.6 204.8,324.1 204.7,323.1 204.7,322.1 204.9,320.6 205.3,318.6 206.2,315.6 206.5,314.1 206.7,312.6Z M228.9,310.6 229.3,314.6 230.0,319.1 230.4,323.1 230.4,325.1 230.1,329.1 229.8,330.6 229.8,331.1 229.9,331.6 230.3,332.6 231.3,334.1 231.8,334.6 232.3,335.1 233.9,336.3 L223.9,336.3 225.4,335.1 226.0,334.6 226.4,334.1 227.4,332.6 227.9,331.6 228.0,331.1 227.9,330.6 227.7,329.1 227.3,325.1 227.3,323.1 227.7,319.1 228.5,314.6 228.8,310.6Z M251.2,295.1 252.0,315.1 252.5,323.1 252.5,331.1 252.6,331.6 252.7,332.1 253.2,333.1 253.6,333.6 254.3,334.6 255.9,336.3 L246.1,336.3 247.7,334.6 248.5,333.6 248.8,333.1 249.3,332.1 249.5,331.6 249.5,331.1 249.6,323.1 250.0,315.1 250.8,295.1Z M274.2,323.4 274.7,323.9 275.1,324.4 275.1,331.4 275.2,332.9 275.3,333.4 275.5,333.9 275.8,334.4 276.3,334.9 276.8,335.4 278.0,336.3 L268.4,336.3 269.5,335.4 270.1,334.9 270.5,334.4 270.9,333.9 271.1,333.4 271.2,332.9 271.3,331.4 271.3,324.4 271.6,323.9 272.2,323.4Z M295.4,320.0 295.8,321.5 296.0,322.0 296.6,323.0 296.8,323.5 297.3,325.0 297.3,326.0 297.2,327.0 296.7,330.0 296.3,331.5 296.4,332.0 296.6,332.5 296.9,333.0 297.9,334.5 298.4,335.0 299.0,335.5 300.0,336.3 L290.6,336.3 291.7,335.5 292.3,335.0 292.8,334.5 293.8,333.0 294.1,332.5 294.3,332.0 294.3,331.5 293.9,330.0 293.5,327.0 293.4,326.0 293.4,325.0 293.8,323.5 294.1,323.0 294.7,322.0 294.9,321.5 295.3,320.0Z M406.2,296.4 406.3,304.9 406.6,314.9 406.8,316.9 407.2,320.4 407.3,322.4 407.3,323.9 406.8,327.9 406.7,328.9 406.8,329.9 407.1,331.9 407.6,332.9 407.9,333.4 408.8,334.4 409.9,335.4 411.0,336.3 L401.2,336.3 402.3,335.4 403.4,334.4 404.3,333.4 404.6,332.9 405.1,331.9 405.5,329.9 405.5,328.9 405.5,327.9 405.0,323.9 404.9,322.4 405.1,320.4 405.5,316.9 405.6,314.9 406.0,304.9 406.1,296.4Z M428.5,302.5 428.5,311.5 428.7,320.0 429.1,330.0 429.3,332.5 429.5,333.5 429.8,334.5 430.3,335.0 431.3,335.5 433.3,336.3 L423.3,336.3 425.3,335.5 426.3,335.0 426.8,334.5 427.1,333.5 427.2,332.5 427.5,330.0 427.8,320.0 428.0,311.5 428.1,302.5Z" fill="#27a8e1" stroke="#1e1e1e" stroke-width="0.55" stroke-linejoin="round"/>
<path d="M216.9,297.1 217.2,310.1 217.5,317.1 217.5,319.6 217.2,325.6 217.3,331.1 217.4,331.6 217.6,332.1 218.2,333.1 218.6,333.6 219.5,334.6 221.4,336.3 L212.2,336.3 214.1,334.6 215.0,333.6 215.4,333.1 216.0,332.1 216.2,331.6 216.3,331.1 216.4,325.6 216.1,319.6 216.1,317.1 216.4,310.1 216.8,297.1Z M261.3,291.0 262.0,301.5 262.2,306.0 262.3,310.5 262.3,322.5 262.2,324.5 261.8,329.0 261.7,331.0 261.8,331.5 261.9,332.0 262.2,332.5 262.5,333.0 263.0,333.5 263.9,334.5 265.9,336.3 L256.3,336.3 258.3,334.5 259.3,333.5 259.7,333.0 260.0,332.5 260.3,332.0 260.5,331.5 260.5,331.0 260.4,329.0 260.0,324.5 259.9,322.5 259.9,310.5 260.0,306.0 260.2,301.5 260.9,291.0Z M283.6,308.6 284.1,311.6 284.5,313.6 284.7,315.6 284.8,317.1 284.7,320.6 284.3,328.1 284.3,330.1 284.3,330.6 284.6,331.6 284.9,332.1 285.5,333.1 286.2,334.1 288.0,336.3 L278.6,336.3 280.4,334.1 281.1,333.1 281.7,332.1 281.9,331.6 282.2,330.6 282.3,330.1 282.2,328.1 281.8,320.6 281.8,317.1 281.9,315.6 282.1,313.6 282.4,311.6 283.0,308.6Z M305.6,299.1 306.0,307.1 306.2,316.1 306.2,321.6 306.0,329.1 305.9,332.1 306.1,332.6 306.4,333.1 306.8,333.6 307.9,334.6 310.1,336.3 L300.7,336.3 303.0,334.6 304.1,333.6 304.5,333.1 304.8,332.6 304.9,332.1 304.9,329.1 304.6,321.6 304.7,316.1 304.8,307.1 305.2,299.1Z M349.8,293.7 350.4,318.2 350.4,320.7 350.2,326.7 350.2,328.7 350.4,331.2 350.5,331.7 350.7,332.2 351.0,332.7 351.8,333.7 352.9,334.7 354.8,336.3 L344.6,336.3 346.6,334.7 347.7,333.7 348.5,332.7 348.8,332.2 349.0,331.7 349.1,331.2 349.3,328.7 349.3,326.7 349.1,320.7 349.1,318.2 349.7,293.7Z M416.3,298.5 416.5,304.0 416.9,310.0 417.6,316.5 417.8,319.0 417.8,320.0 417.7,321.5 417.0,325.5 416.9,327.0 416.8,328.5 417.0,330.0 417.2,331.5 417.4,332.0 418.0,333.0 418.4,333.5 419.2,334.5 420.3,335.5 421.2,336.3 L411.2,336.3 412.1,335.5 413.2,334.5 414.1,333.5 414.4,333.0 415.0,332.0 415.2,331.5 415.5,330.0 415.6,328.5 415.6,327.0 415.4,325.5 414.8,321.5 414.6,320.0 414.6,319.0 414.8,316.5 415.5,310.0 415.9,304.0 416.2,298.5Z" fill="#c4082a" stroke="#1e1e1e" stroke-width="0.55" stroke-linejoin="round"/>
<path d="M194.7,293.7 194.7,335.7 199.1,336.2 199.2,336.3 L190.2,336.3 190.2,336.2 194.6,335.7 194.6,293.7Z M239.0,294.4 239.0,335.4 240.1,335.9 243.5,336.3 L234.5,336.3 237.9,335.9 238.9,335.4 238.9,294.4Z M317.5,299.8 317.6,335.8 322.0,336.3 L313.0,336.3 317.4,335.8 317.4,299.8Z M327.6,291.7 327.7,335.7 332.1,336.2 332.1,336.3 L323.1,336.3 323.1,336.2 327.5,335.7 327.5,291.7Z M339.7,298.5 339.7,335.5 343.8,336.0 344.1,336.3 L335.1,336.3 335.4,336.0 339.6,335.5 339.6,298.5Z M361.9,295.8 361.9,335.8 366.3,336.3 L357.3,336.3 361.7,335.8 361.8,295.8Z M372.0,294.2 372.0,335.7 376.4,336.2 376.4,336.3 L367.4,336.3 367.4,336.2 371.8,335.7 371.9,294.2Z M384.0,313.9 384.0,335.4 385.1,335.9 388.5,336.3 L379.5,336.3 382.9,335.9 383.9,335.4 383.9,313.9Z M394.1,303.8 394.1,335.8 398.6,336.3 L389.6,336.3 394.0,335.8 394.0,303.8Z M438.4,295.0 438.4,335.5 442.6,336.0 442.9,336.3 L433.9,336.3 434.2,336.0 438.3,335.5 438.3,295.0Z M450.5,291.0 450.5,335.5 454.6,336.0 454.9,336.3 L445.9,336.3 446.2,336.0 450.4,335.5 450.4,291.0Z M460.6,292.3 460.6,335.8 465.0,336.3 L456.0,336.3 460.5,335.8 460.5,292.3Z M472.6,303.7 472.7,335.7 477.1,336.2 477.1,336.3 L468.1,336.3 468.1,336.2 472.5,335.7 472.5,303.7Z M482.7,291.6 482.8,335.6 487.1,336.1 487.2,336.3 L478.2,336.3 478.3,336.1 482.6,335.6 482.6,291.6Z M494.8,299.7 494.8,335.7 499.2,336.2 499.2,336.3 L490.2,336.3 490.3,336.2 494.7,335.7 494.7,299.7Z M504.9,292.8 504.9,335.8 509.3,336.3 L500.3,336.3 504.8,335.8 504.8,292.8Z" fill="#888" stroke="#6a6a6a" stroke-width="0.6" stroke-linejoin="round"/>
<path d="M176.0 343.2V396.3" fill="none" stroke="#2e2e2e" stroke-width="1.3"/>
<path d="M175.35 396.3H513" fill="none" stroke="#1a1a1a" stroke-width="0.9"/>
<path d="M173.2 393.8H176.0" stroke="#1a1a1a" stroke-width="0.8"/>
<text x="170.4" y="396.1" font-size="6.5" text-anchor="end" fill="#333">0</text>
<path d="M173.2 378.4H176.0" stroke="#1a1a1a" stroke-width="0.8"/>
<text x="170.4" y="380.7" font-size="6.5" text-anchor="end" fill="#333">2</text>
<path d="M173.2 362.3H176.0" stroke="#1a1a1a" stroke-width="0.8"/>
<text x="170.4" y="364.6" font-size="6.5" text-anchor="end" fill="#333">4</text>
<path d="M173.2 346.3H176.0" stroke="#1a1a1a" stroke-width="0.8"/>
<text x="170.4" y="348.6" font-size="6.5" text-anchor="end" fill="#333">6</text>
<text transform="translate(163.2,369.8) rotate(-90)" font-size="6.3" font-style="italic" text-anchor="middle" fill="#333">FOS</text>
<path d="M189.6 396.3v2" stroke="#1a1a1a" stroke-width="0.7"/>
<path d="M211.8 396.3v2" stroke="#1a1a1a" stroke-width="0.7"/>
<path d="M233.9 396.3v2" stroke="#1a1a1a" stroke-width="0.7"/>
<path d="M256.1 396.3v2" stroke="#1a1a1a" stroke-width="0.7"/>
<path d="M278.2 396.3v2" stroke="#1a1a1a" stroke-width="0.7"/>
<path d="M300.4 396.3v2" stroke="#1a1a1a" stroke-width="0.7"/>
<path d="M322.5 396.3v2" stroke="#1a1a1a" stroke-width="0.7"/>
<path d="M344.7 396.3v2" stroke="#1a1a1a" stroke-width="0.7"/>
<path d="M366.9 396.3v2" stroke="#1a1a1a" stroke-width="0.7"/>
<path d="M389.0 396.3v2" stroke="#1a1a1a" stroke-width="0.7"/>
<path d="M411.2 396.3v2" stroke="#1a1a1a" stroke-width="0.7"/>
<path d="M433.3 396.3v2" stroke="#1a1a1a" stroke-width="0.7"/>
<path d="M455.5 396.3v2" stroke="#1a1a1a" stroke-width="0.7"/>
<path d="M477.6 396.3v2" stroke="#1a1a1a" stroke-width="0.7"/>
<path d="M499.8 396.3v2" stroke="#1a1a1a" stroke-width="0.7"/>
<path d="M186.1,357.2 187.1,357.7 187.4,358.2 187.8,359.2 188.9,364.2 189.1,365.7 189.1,366.7 189.1,367.2 189.0,368.2 187.8,371.7 186.7,376.2 186.3,378.2 185.9,381.2 185.8,382.7 185.6,385.7 185.6,391.2 185.7,392.2 186.2,393.8 L182.8,393.8 183.4,392.2 183.5,391.2 183.5,385.7 183.3,382.7 183.2,381.2 182.8,378.2 182.4,376.2 181.3,371.7 180.1,368.2 180.0,367.2 180.0,366.7 180.0,365.7 180.2,364.2 181.3,359.2 181.7,358.2 182.0,357.7 182.9,357.2Z M208.9,368.2 209.6,368.7 210.0,369.2 210.1,369.7 210.9,374.7 211.1,376.2 211.1,377.2 211.0,378.2 210.8,379.2 209.9,382.2 209.0,385.7 208.8,386.7 208.7,387.7 208.9,388.7 209.8,391.2 210.3,392.2 211.2,393.8 L202.2,393.8 203.1,392.2 203.6,391.2 204.5,388.7 204.7,387.7 204.6,386.7 204.4,385.7 203.5,382.2 202.6,379.2 202.4,378.2 202.3,377.2 202.3,376.2 202.5,374.7 203.3,369.7 203.4,369.2 203.8,368.7 204.5,368.2Z M228.9,367.7 229.4,370.2 229.7,372.2 230.1,378.2 230.6,383.7 230.9,388.7 231.2,389.7 232.0,391.2 232.9,392.7 233.7,393.8 L224.1,393.8 224.9,392.7 225.8,391.2 226.5,389.7 226.8,388.7 227.1,383.7 227.6,378.2 228.0,372.2 228.3,370.2 228.8,367.7Z M252.2,364.2 252.8,364.7 253.1,365.2 253.8,367.7 254.2,369.2 254.4,370.7 254.7,373.7 254.7,375.7 254.6,377.2 254.3,379.2 253.3,385.2 253.1,387.2 253.0,388.7 253.2,389.7 253.7,390.7 254.4,391.7 255.9,393.8 L246.1,393.8 247.7,391.7 248.3,390.7 248.8,389.7 249.0,388.7 249.0,387.2 248.8,385.2 247.7,379.2 247.4,377.2 247.3,375.7 247.3,373.7 247.6,370.7 247.9,369.2 248.2,367.7 248.9,365.2 249.2,364.7 249.8,364.2Z M295.5,363.6 296.0,368.6 296.3,372.6 296.5,376.1 296.6,383.6 296.7,385.6 297.0,387.1 297.7,389.1 298.5,391.1 299.7,393.8 L290.9,393.8 292.2,391.1 293.0,389.1 293.6,387.1 293.9,385.6 294.1,383.6 294.2,376.1 294.3,372.6 294.6,368.6 295.1,363.6Z M320.5,364.0 321.4,366.0 321.7,367.0 321.9,368.0 321.9,369.0 321.6,370.5 321.2,372.0 319.5,376.5 318.8,378.5 318.6,380.0 318.5,381.0 318.5,382.0 318.6,383.5 318.9,385.0 319.2,386.5 319.6,388.0 320.1,389.5 320.8,391.0 321.5,392.5 322.2,393.8 L312.8,393.8 313.5,392.5 314.2,391.0 314.8,389.5 315.4,388.0 315.8,386.5 316.1,385.0 316.3,383.5 316.5,382.0 316.5,381.0 316.4,380.0 316.1,378.5 315.5,376.5 313.8,372.0 313.4,370.5 313.1,369.0 313.1,368.0 313.3,367.0 313.6,366.0 314.5,364.0Z M428.3,361.0 428.4,371.0 428.5,380.5 428.6,385.5 428.8,388.0 429.2,390.0 429.3,390.5 429.5,391.0 429.8,391.5 430.3,392.0 430.9,392.5 432.6,393.8 L424.0,393.8 425.7,392.5 426.2,392.0 426.7,391.5 427.1,391.0 427.3,390.5 427.4,390.0 427.7,388.0 428.0,385.5 428.1,380.5 428.2,371.0 428.2,361.0Z M494.8,358.8 495.5,367.8 496.3,373.3 496.4,375.8 496.4,377.3 495.7,380.8 495.6,381.8 495.4,384.8 495.4,386.8 495.8,388.3 496.4,389.8 497.0,390.8 497.7,391.8 499.3,393.8 L490.1,393.8 491.8,391.8 492.5,390.8 493.1,389.8 493.7,388.3 494.1,386.8 494.1,384.8 493.9,381.8 493.8,380.8 493.1,377.3 493.0,375.8 493.2,373.3 494.0,367.8 494.7,358.8Z" fill="#27a8e1" stroke="#1e1e1e" stroke-width="0.55" stroke-linejoin="round"/>
<path d="M194.7,348.7 194.8,349.7 195.0,351.2 195.6,353.7 195.9,354.7 196.5,355.7 198.8,358.7 199.5,359.7 199.9,360.7 200.0,361.2 200.0,361.7 199.9,362.7 199.3,364.2 198.8,365.2 196.9,368.2 196.4,369.2 195.7,370.7 195.5,371.7 195.5,391.7 195.5,392.7 195.8,393.8 L193.5,393.8 193.8,392.7 193.8,391.7 193.8,371.7 193.6,370.7 192.9,369.2 192.4,368.2 190.5,365.2 190.0,364.2 189.4,362.7 189.3,361.7 189.3,361.2 189.4,360.7 189.8,359.7 190.5,358.7 192.8,355.7 193.4,354.7 193.7,353.7 194.3,351.2 194.5,349.7 194.6,348.7Z M216.9,358.8 218.4,361.8 219.8,364.8 221.3,367.8 221.9,369.3 222.0,370.3 221.9,371.8 221.5,373.3 221.0,374.8 219.7,377.8 219.0,379.8 217.9,382.8 217.5,384.3 217.3,385.3 217.3,385.8 217.4,386.8 217.7,387.8 218.3,389.8 219.2,391.8 220.3,393.8 L213.3,393.8 214.4,391.8 215.3,389.8 216.0,387.8 216.2,386.8 216.3,385.8 216.3,385.3 216.1,384.3 215.7,382.8 214.6,379.8 213.9,377.8 212.7,374.8 212.1,373.3 211.7,371.8 211.6,370.3 211.8,369.3 212.3,367.8 213.8,364.8 215.2,361.8 216.8,358.8Z M239.0,358.8 240.5,361.8 241.8,364.8 243.1,367.3 243.6,368.8 243.8,369.8 243.8,371.3 243.5,372.8 243.1,374.3 241.8,377.8 240.1,383.3 239.7,384.8 239.5,386.3 239.5,387.3 239.6,387.8 239.9,388.8 240.9,391.3 241.5,392.3 242.5,393.8 L235.5,393.8 236.4,392.3 237.0,391.3 238.0,388.8 238.4,387.8 238.4,387.3 238.4,386.3 238.2,384.8 237.8,383.3 236.1,377.8 234.9,374.3 234.4,372.8 234.1,371.3 234.1,369.8 234.3,368.8 234.9,367.3 236.1,364.8 237.4,361.8 238.9,358.8Z M261.3,351.8 261.4,353.8 261.5,355.8 262.2,360.8 262.5,361.8 263.0,363.3 264.8,367.3 265.6,369.3 266.0,370.8 266.1,372.3 266.0,373.8 265.8,374.8 265.5,375.8 264.7,377.8 263.2,381.3 262.4,383.3 262.2,384.3 262.0,385.3 261.9,386.8 262.0,387.3 262.2,388.3 262.9,389.8 263.4,390.8 264.1,391.8 265.5,393.8 L256.7,393.8 258.2,391.8 258.8,390.8 259.4,389.8 260.0,388.3 260.2,387.3 260.3,386.8 260.2,385.3 260.1,384.3 259.8,383.3 259.1,381.3 257.5,377.8 256.8,375.8 256.5,374.8 256.3,373.8 256.1,372.3 256.3,370.8 256.7,369.3 257.4,367.3 259.2,363.3 259.8,361.8 260.0,360.8 260.7,355.8 260.9,353.8 260.9,351.8Z M283.6,366.9 284.2,369.9 284.5,371.9 284.7,382.4 284.8,384.4 284.9,385.4 285.3,386.9 285.9,388.9 286.8,390.9 288.2,393.8 L278.4,393.8 279.8,390.9 280.6,388.9 281.3,386.9 281.6,385.4 281.8,384.4 281.8,382.4 282.1,371.9 282.3,369.9 283.0,366.9Z M305.5,360.2 305.9,361.7 306.6,363.7 307.0,364.7 308.3,366.7 308.8,367.7 309.7,370.2 310.1,371.7 310.1,373.2 309.9,374.7 309.5,376.2 308.4,380.2 307.9,381.7 307.3,383.2 306.4,384.7 306.2,385.2 306.0,385.7 306.1,386.7 306.4,387.7 307.4,390.2 307.6,390.7 308.3,391.7 309.0,392.7 309.9,393.8 L300.9,393.8 301.9,392.7 302.6,391.7 303.2,390.7 303.5,390.2 304.5,387.7 304.8,386.7 304.8,385.7 304.7,385.2 304.5,384.7 303.5,383.2 303.0,381.7 302.5,380.2 301.4,376.2 301.0,374.7 300.8,373.2 300.8,371.7 301.1,370.2 302.1,367.7 302.6,366.7 303.8,364.7 304.3,363.7 305.0,361.7 305.4,360.2Z M327.6,353.5 327.9,355.5 328.5,358.0 329.5,361.0 329.8,362.0 330.4,365.0 330.6,366.5 330.6,368.0 330.4,369.5 329.5,375.0 328.8,378.0 328.3,379.5 328.1,380.0 328.1,381.0 328.2,382.0 328.4,383.0 328.7,384.5 329.9,388.5 330.3,389.5 331.0,391.0 332.6,393.8 L322.6,393.8 324.2,391.0 324.9,389.5 325.3,388.5 326.5,384.5 326.8,383.0 327.0,382.0 327.1,381.0 327.1,380.0 326.9,379.5 326.4,378.0 325.7,375.0 324.8,369.5 324.6,368.0 324.6,366.5 324.8,365.0 325.4,362.0 325.7,361.0 326.7,358.0 327.3,355.5 327.6,353.5Z M350.0,356.2 352.1,359.2 353.0,360.7 353.5,361.7 354.2,363.2 354.5,364.2 354.8,365.2 354.9,366.2 354.9,367.2 354.9,368.2 354.7,369.2 354.4,370.7 353.6,373.2 352.0,377.7 351.3,379.7 350.8,381.7 350.6,383.2 350.6,384.2 350.6,385.7 350.8,388.2 351.3,390.7 352.1,393.8 L347.3,393.8 348.2,390.7 348.7,388.2 348.9,385.7 348.9,384.2 348.9,383.2 348.7,381.7 348.2,379.7 347.5,377.7 345.8,373.2 345.1,370.7 344.8,369.2 344.6,368.2 344.6,367.2 344.6,366.2 344.7,365.2 345.0,364.2 345.3,363.2 346.0,361.7 346.5,360.7 347.4,359.2 349.4,356.2Z M371.9,354.1 372.5,356.6 373.3,359.1 373.7,360.1 375.0,362.6 375.6,364.1 376.3,366.1 376.7,367.6 376.8,368.6 376.9,369.6 376.8,370.6 376.7,371.6 376.2,373.6 375.0,377.6 374.3,379.6 373.8,380.6 372.8,382.1 372.6,382.6 372.5,383.1 372.6,384.1 372.8,385.1 373.0,386.1 374.3,389.6 374.8,390.6 375.4,391.6 376.9,393.8 L366.9,393.8 368.4,391.6 369.0,390.6 369.5,389.6 370.8,386.1 371.0,385.1 371.2,384.1 371.3,383.1 371.2,382.6 371.0,382.1 370.0,380.6 369.6,379.6 368.8,377.6 367.6,373.6 367.1,371.6 367.0,370.6 366.9,369.6 367.0,368.6 367.1,367.6 367.5,366.1 368.2,364.1 368.8,362.6 370.1,360.1 370.5,359.1 371.3,356.6 371.9,354.1Z M396.1,355.1 396.7,355.6 397.1,356.1 397.9,358.1 398.3,359.6 398.6,361.1 398.9,362.6 399.0,364.1 399.1,365.6 399.0,366.6 398.7,368.6 398.1,370.6 396.8,374.6 396.1,376.6 395.7,378.6 395.6,380.1 395.6,381.6 395.7,383.6 395.9,385.1 396.3,387.1 396.7,388.6 397.3,390.6 397.9,392.1 398.6,393.8 L389.6,393.8 390.3,392.1 390.8,390.6 391.4,388.6 391.8,387.1 392.2,385.1 392.4,383.6 392.5,381.6 392.6,380.1 392.4,378.6 392.0,376.6 391.4,374.6 390.0,370.6 389.4,368.6 389.1,366.6 389.1,365.6 389.1,364.1 389.2,362.6 389.5,361.1 389.8,359.6 390.3,358.1 391.0,356.1 391.4,355.6 392.1,355.1Z M416.5,354.1 417.7,356.1 418.6,357.6 419.4,359.1 420.0,360.6 420.6,362.1 421.0,363.6 421.3,365.1 421.4,366.1 421.4,367.1 421.3,368.6 420.9,371.1 420.1,373.6 418.4,378.6 417.8,380.6 417.3,382.6 417.0,384.6 416.9,386.6 417.2,388.6 417.8,391.1 418.6,393.8 L413.8,393.8 414.7,391.1 415.3,388.6 415.5,386.6 415.5,384.6 415.2,382.6 414.7,380.6 414.1,378.6 412.3,373.6 411.6,371.1 411.1,368.6 411.0,367.1 411.0,366.1 411.1,365.1 411.4,363.6 411.9,362.1 412.4,360.6 413.1,359.1 413.9,357.6 414.7,356.1 415.9,354.1Z M438.4,357.0 438.9,359.0 439.6,361.5 440.1,362.5 441.4,365.0 441.8,366.0 442.8,369.0 443.0,370.0 443.1,371.0 443.0,372.5 442.8,374.0 441.4,380.0 440.9,382.0 440.2,384.0 439.1,386.0 438.9,386.5 438.9,387.0 438.9,387.5 439.0,388.0 439.5,389.0 440.6,391.0 441.0,391.5 441.9,392.5 443.4,393.8 L433.4,393.8 434.8,392.5 435.8,391.5 436.1,391.0 437.3,389.0 437.7,388.0 437.8,387.5 437.9,387.0 437.8,386.5 437.6,386.0 436.6,384.0 435.9,382.0 435.4,380.0 434.0,374.0 433.7,372.5 433.7,371.0 433.8,370.0 434.0,369.0 434.9,366.0 435.4,365.0 436.7,362.5 437.1,361.5 437.9,359.0 438.3,357.0Z M460.6,350.7 460.8,353.2 461.2,355.7 462.2,359.7 462.5,361.2 463.0,364.7 463.1,366.7 463.1,368.7 463.0,370.7 462.2,378.2 461.7,382.2 461.1,385.2 461.0,386.2 461.2,387.2 461.6,388.2 462.9,390.7 463.3,391.2 464.1,392.2 465.7,393.8 L455.3,393.8 456.9,392.2 457.8,391.2 458.1,390.7 459.4,388.2 459.8,387.2 460.0,386.2 460.0,385.2 459.4,382.2 458.9,378.2 458.1,370.7 458.0,368.7 457.9,366.7 458.1,364.7 458.6,361.2 458.9,359.7 459.9,355.7 460.2,353.2 460.5,350.7Z M482.7,350.4 483.2,352.9 484.0,355.9 484.6,357.4 485.7,359.9 486.3,361.4 487.2,364.9 487.5,366.4 487.6,367.4 487.5,369.4 487.2,371.4 485.7,378.4 485.2,380.4 484.6,382.4 483.4,384.9 483.2,385.4 483.2,385.9 483.2,386.4 483.4,387.4 483.8,388.4 485.1,390.9 485.4,391.4 486.3,392.4 487.6,393.8 L477.8,393.8 479.1,392.4 479.9,391.4 480.3,390.9 481.6,388.4 481.9,387.4 482.2,386.4 482.2,385.9 482.1,385.4 482.0,384.9 480.8,382.4 480.2,380.4 479.7,378.4 478.2,371.4 477.9,369.4 477.8,367.4 477.9,366.4 478.1,364.9 479.1,361.4 479.6,359.9 480.8,357.4 481.4,355.9 482.2,352.9 482.7,350.4Z M504.9,349.3 505.3,351.8 505.8,354.3 507.1,358.3 507.4,359.3 508.1,362.8 508.2,364.8 508.2,366.8 508.0,368.8 507.0,377.3 506.3,381.3 505.4,384.8 505.4,385.8 505.5,386.8 505.9,387.8 507.0,390.3 507.3,390.8 508.0,391.8 508.9,392.8 509.8,393.8 L499.8,393.8 500.8,392.8 501.6,391.8 502.4,390.8 502.7,390.3 503.8,387.8 504.2,386.8 504.3,385.8 504.3,384.8 503.4,381.3 502.7,377.3 501.7,368.8 501.5,366.8 501.4,364.8 501.6,362.8 502.3,359.3 502.6,358.3 503.9,354.3 504.4,351.8 504.8,349.3Z" fill="#c4082a" stroke="#1e1e1e" stroke-width="0.55" stroke-linejoin="round"/>
<path d="M273.2,385.5 273.2,393.0 277.4,393.5 277.7,393.8 L268.7,393.8 269.0,393.5 273.1,393.0 273.1,385.5Z M339.7,364.9 339.7,392.9 340.8,393.4 344.1,393.8 L335.1,393.8 338.5,393.4 339.6,392.9 339.6,364.9Z M361.9,362.2 361.9,393.2 366.3,393.7 366.3,393.8 L357.3,393.8 357.3,393.7 361.7,393.2 361.8,362.2Z M384.0,366.2 384.0,393.2 388.4,393.7 388.5,393.8 L379.5,393.8 379.5,393.7 383.9,393.2 383.9,366.2Z M406.2,364.9 406.2,392.9 407.2,393.4 410.6,393.8 L401.6,393.8 405.0,393.4 406.1,392.9 406.1,364.9Z M450.5,354.7 450.5,393.2 454.9,393.7 454.9,393.8 L445.9,393.8 446.0,393.7 450.4,393.2 450.4,354.7Z M472.6,357.0 472.7,393.0 476.8,393.5 477.1,393.8 L468.1,393.8 468.4,393.5 472.5,393.0 472.5,357.0Z" fill="#888" stroke="#6a6a6a" stroke-width="0.6" stroke-linejoin="round"/>
<path d="M176.0 400.2V451.3" fill="none" stroke="#2e2e2e" stroke-width="1.3"/>
<path d="M175.35 451.3H513" fill="none" stroke="#1a1a1a" stroke-width="0.9"/>
<path d="M173.2 448.5H176.0" stroke="#1a1a1a" stroke-width="0.8"/>
<text x="170.4" y="450.8" font-size="6.5" text-anchor="end" fill="#333">0</text>
<path d="M173.2 439.4H176.0" stroke="#1a1a1a" stroke-width="0.8"/>
<text x="170.4" y="441.7" font-size="6.5" text-anchor="end" fill="#333">1</text>
<path d="M173.2 430.3H176.0" stroke="#1a1a1a" stroke-width="0.8"/>
<text x="170.4" y="432.6" font-size="6.5" text-anchor="end" fill="#333">2</text>
<path d="M173.2 421.1H176.0" stroke="#1a1a1a" stroke-width="0.8"/>
<text x="170.4" y="423.4" font-size="6.5" text-anchor="end" fill="#333">3</text>
<path d="M173.2 412H176.0" stroke="#1a1a1a" stroke-width="0.8"/>
<text x="170.4" y="414.3" font-size="6.5" text-anchor="end" fill="#333">4</text>
<path d="M173.2 403H176.0" stroke="#1a1a1a" stroke-width="0.8"/>
<text x="170.4" y="405.3" font-size="6.5" text-anchor="end" fill="#333">5</text>
<text transform="translate(163.2,425.8) rotate(-90)" font-size="6.3" font-style="italic" text-anchor="middle" fill="#333">FOSB</text>
<path d="M189.6 451.3v2" stroke="#1a1a1a" stroke-width="0.7"/>
<path d="M211.8 451.3v2" stroke="#1a1a1a" stroke-width="0.7"/>
<path d="M233.9 451.3v2" stroke="#1a1a1a" stroke-width="0.7"/>
<path d="M256.1 451.3v2" stroke="#1a1a1a" stroke-width="0.7"/>
<path d="M278.2 451.3v2" stroke="#1a1a1a" stroke-width="0.7"/>
<path d="M300.4 451.3v2" stroke="#1a1a1a" stroke-width="0.7"/>
<path d="M322.5 451.3v2" stroke="#1a1a1a" stroke-width="0.7"/>
<path d="M344.7 451.3v2" stroke="#1a1a1a" stroke-width="0.7"/>
<path d="M366.9 451.3v2" stroke="#1a1a1a" stroke-width="0.7"/>
<path d="M389.0 451.3v2" stroke="#1a1a1a" stroke-width="0.7"/>
<path d="M411.2 451.3v2" stroke="#1a1a1a" stroke-width="0.7"/>
<path d="M433.3 451.3v2" stroke="#1a1a1a" stroke-width="0.7"/>
<path d="M455.5 451.3v2" stroke="#1a1a1a" stroke-width="0.7"/>
<path d="M477.6 451.3v2" stroke="#1a1a1a" stroke-width="0.7"/>
<path d="M499.8 451.3v2" stroke="#1a1a1a" stroke-width="0.7"/>
<path d="M184.6,410.5 184.9,414.5 185.3,418.0 185.6,419.5 186.0,421.5 187.3,426.5 188.5,430.5 188.7,431.5 188.8,432.5 188.8,434.0 188.4,435.5 187.3,438.5 186.3,440.5 186.2,441.0 186.2,441.5 186.4,442.5 187.6,445.0 188.4,446.5 189.6,448.5 L179.4,448.5 180.7,446.5 181.5,445.0 182.7,442.5 182.9,441.5 182.9,441.0 182.8,440.5 181.8,438.5 180.7,435.5 180.3,434.0 180.3,432.5 180.4,431.5 180.6,430.5 181.8,426.5 183.1,421.5 183.5,419.5 183.7,418.0 184.2,414.5 184.5,410.5Z M206.7,429.6 206.9,430.6 207.3,432.1 208.2,434.1 208.6,435.1 209.0,436.6 209.1,437.6 209.0,438.6 208.4,441.1 207.9,442.6 207.3,443.6 207.3,444.1 207.5,444.6 207.8,445.1 208.8,446.6 209.3,447.1 209.9,447.6 211.2,448.5 L202.2,448.5 203.5,447.6 204.1,447.1 204.6,446.6 205.7,445.1 205.9,444.6 206.1,444.1 206.1,443.6 205.5,442.6 205.0,441.1 204.4,438.6 204.3,437.6 204.4,436.6 204.8,435.1 205.2,434.1 206.1,432.1 206.5,430.6 206.7,429.6Z M228.9,427.0 229.3,430.0 230.1,433.0 230.5,435.0 230.6,436.0 230.5,437.0 230.5,438.0 229.9,441.5 229.5,443.5 229.5,444.0 229.7,444.5 230.0,445.0 231.1,446.5 231.6,447.0 232.2,447.5 233.6,448.5 L224.2,448.5 225.6,447.5 226.1,447.0 226.6,446.5 227.7,445.0 228.0,444.5 228.2,444.0 228.3,443.5 227.8,441.5 227.3,438.0 227.2,437.0 227.2,436.0 227.3,435.0 227.6,433.0 228.4,430.0 228.8,427.0Z M251.1,417.5 251.2,423.0 251.7,428.5 252.1,430.0 252.9,432.5 253.8,435.5 254.0,436.5 254.1,437.5 254.1,438.0 254.0,439.0 253.4,441.0 252.7,443.0 252.6,443.5 252.6,444.0 252.9,445.0 253.4,446.0 254.2,447.0 254.7,447.5 255.9,448.5 L246.1,448.5 247.3,447.5 247.8,447.0 248.6,446.0 249.1,445.0 249.4,444.0 249.4,443.5 249.3,443.0 248.6,441.0 248.1,439.0 247.9,438.0 247.9,437.5 248.0,436.5 248.3,435.5 249.2,432.5 250.0,430.0 250.4,428.5 250.8,423.0 251.0,417.5Z M273.5,433.7 274.4,436.2 274.9,437.7 276.2,443.2 277.0,445.7 278.0,448.5 L268.4,448.5 269.4,445.7 270.1,443.2 271.5,437.7 271.9,436.2 272.9,433.7Z M295.4,433.7 295.7,435.2 296.6,437.2 297.0,438.7 297.0,439.7 296.9,440.7 296.5,442.7 296.2,443.7 296.1,444.2 296.3,444.7 296.8,445.7 297.5,446.7 297.9,447.2 298.5,447.7 299.5,448.5 L291.1,448.5 292.2,447.7 292.7,447.2 293.2,446.7 293.9,445.7 294.4,444.7 294.5,444.2 294.5,443.7 294.2,442.7 293.8,440.7 293.7,439.7 293.7,438.7 294.1,437.2 294.9,435.2 295.3,433.7Z M428.5,408.8 428.6,417.8 428.9,427.8 429.0,429.3 429.5,433.3 429.6,434.8 429.5,436.3 428.9,440.3 428.9,441.8 429.3,443.3 429.9,444.8 430.8,446.3 431.5,447.3 432.5,448.5 L424.1,448.5 425.0,447.3 425.7,446.3 426.6,444.8 427.3,443.3 427.6,441.8 427.7,440.3 427.1,436.3 427.0,434.8 427.1,433.3 427.6,429.3 427.7,427.8 428.0,417.8 428.1,408.8Z" fill="#27a8e1" stroke="#1e1e1e" stroke-width="0.55" stroke-linejoin="round"/>
<path d="M194.7,406.1 195.2,408.6 195.9,411.1 196.4,412.6 197.9,415.6 198.5,417.1 199.5,420.6 199.8,422.6 199.8,424.1 199.6,426.1 199.2,428.1 197.9,433.1 197.3,435.1 196.7,437.1 195.3,439.6 195.2,440.1 195.2,440.6 195.3,441.6 195.6,442.6 196.6,445.1 197.5,446.6 199.0,448.5 L190.3,448.5 191.8,446.6 192.7,445.1 193.7,442.6 194.0,441.6 194.1,440.6 194.1,440.1 194.0,439.6 192.6,437.1 192.0,435.1 191.4,433.1 190.1,428.1 189.7,426.1 189.5,424.1 189.5,422.6 189.8,420.6 190.8,417.1 191.4,415.6 192.9,412.6 193.4,411.1 194.1,408.6 194.6,406.1Z M216.8,414.8 217.1,416.8 217.5,419.3 218.8,424.3 219.3,427.3 219.5,429.3 219.5,430.3 219.4,431.8 218.6,436.3 218.0,439.3 217.4,441.3 217.3,441.8 217.3,442.3 217.5,442.8 217.9,443.8 219.0,445.8 219.9,446.8 220.9,447.8 221.7,448.5 L211.9,448.5 212.7,447.8 213.7,446.8 214.6,445.8 215.7,443.8 216.1,442.8 216.3,442.3 216.3,441.8 216.2,441.3 215.6,439.3 215.0,436.3 214.3,431.8 214.1,430.3 214.1,429.3 214.3,427.3 214.8,424.3 216.1,419.3 216.5,416.8 216.8,414.8Z M239.0,416.9 239.2,418.9 239.6,421.4 240.6,425.9 241.0,428.9 241.2,430.9 241.0,432.9 240.4,436.9 240.0,438.9 239.6,440.4 239.5,440.9 239.5,441.4 239.6,441.9 239.9,442.9 241.1,445.4 241.4,445.9 242.2,446.9 243.7,448.5 L234.3,448.5 235.8,446.9 236.5,445.9 236.8,445.4 238.1,442.9 238.4,441.9 238.4,441.4 238.5,440.9 238.4,440.4 237.9,438.9 237.5,436.9 236.9,432.9 236.8,430.9 236.9,428.9 237.3,425.9 238.4,421.4 238.7,418.9 238.9,416.9Z M261.3,410.8 261.4,415.3 261.8,421.8 262.1,423.8 263.1,429.3 263.3,430.8 263.3,432.3 263.3,433.3 263.1,434.3 261.9,439.3 261.7,440.8 261.8,441.8 261.9,442.3 262.2,443.3 263.0,444.8 264.1,446.3 265.9,448.5 L256.3,448.5 258.2,446.3 259.2,444.8 260.0,443.3 260.4,442.3 260.5,441.8 260.5,440.8 260.4,439.3 259.1,434.3 259.0,433.3 258.9,432.3 259.0,430.8 259.2,429.3 260.1,423.8 260.4,421.8 260.8,415.3 260.9,410.8Z M283.6,431.7 284.2,438.2 284.5,445.2 284.7,445.7 285.0,446.2 285.4,446.7 286.0,447.2 287.5,448.5 L279.1,448.5 280.6,447.2 281.1,446.7 281.5,446.2 281.9,445.7 282.0,445.2 282.4,438.2 283.0,431.7Z M305.5,419.6 305.7,421.6 306.0,423.6 306.8,427.1 307.0,428.1 307.3,430.6 307.4,432.1 307.4,433.6 307.2,435.1 306.6,439.1 306.1,441.1 306.0,441.6 306.1,442.1 306.2,442.6 306.5,443.6 307.3,445.6 307.6,446.1 308.3,447.1 309.4,448.5 L301.4,448.5 302.6,447.1 303.3,446.1 303.5,445.6 304.4,443.6 304.7,442.6 304.8,442.1 304.8,441.6 304.8,441.1 304.3,439.1 303.7,435.1 303.5,433.6 303.4,432.1 303.5,430.6 303.9,428.1 304.1,427.1 304.9,423.6 305.2,421.6 305.4,419.6Z M327.9,410.8 328.5,413.3 328.9,415.3 329.2,417.3 329.3,418.8 329.1,421.8 328.3,428.3 328.1,430.8 328.1,433.3 328.3,435.3 328.5,436.8 328.9,438.3 329.7,441.3 331.1,444.8 332.8,448.5 L322.4,448.5 324.1,444.8 325.5,441.3 326.3,438.3 326.7,436.8 326.9,435.3 327.1,433.3 327.1,430.8 326.8,428.3 326.0,421.8 325.9,418.8 326.0,417.3 326.2,415.3 326.6,413.3 327.3,410.8Z M349.8,407.4 350.2,410.4 350.7,413.4 351.1,414.9 352.2,418.4 352.6,419.9 353.5,424.4 353.6,425.9 353.6,426.9 353.6,427.9 353.4,429.4 352.2,434.9 351.3,437.9 350.5,439.4 350.3,439.9 350.2,440.4 350.3,440.9 350.5,441.9 350.9,442.9 352.1,445.4 352.4,445.9 353.2,446.9 354.6,448.5 L344.8,448.5 346.3,446.9 347.1,445.9 347.4,445.4 348.6,442.9 349.0,441.9 349.2,440.9 349.2,440.4 349.2,439.9 349.0,439.4 348.2,437.9 347.3,434.9 346.1,429.4 345.9,427.9 345.8,426.9 345.9,425.9 346.0,424.4 346.9,419.9 347.3,418.4 348.4,414.9 348.7,413.4 349.3,410.4 349.7,407.4Z M372.2,416.9 373.3,418.9 373.4,419.4 373.5,419.9 373.5,432.4 373.3,434.4 372.6,438.4 372.5,439.9 372.6,440.9 372.9,442.4 373.3,443.4 373.7,444.4 374.9,446.4 376.4,448.5 L367.4,448.5 368.9,446.4 370.1,444.4 370.6,443.4 370.9,442.4 371.2,440.9 371.3,439.9 371.2,438.4 370.5,434.4 370.3,432.4 370.3,419.9 370.4,419.4 370.6,418.9 371.6,416.9Z M395.6,413.5 396.1,414.0 396.5,414.5 396.6,419.0 396.7,424.5 396.6,426.0 396.4,427.5 395.5,433.0 395.2,435.0 395.1,437.5 395.1,439.0 395.5,441.0 396.2,443.0 397.4,445.5 399.1,448.5 L389.1,448.5 390.7,445.5 391.9,443.0 392.6,441.0 393.0,439.0 393.1,437.5 392.9,435.0 392.6,433.0 391.7,427.5 391.6,426.0 391.5,424.5 391.5,419.0 391.7,414.5 392.0,414.0 392.6,413.5Z M416.5,415.5 417.5,417.0 418.7,419.0 419.4,420.5 420.2,422.5 420.7,424.0 421.1,426.0 421.3,427.5 421.4,429.5 421.3,431.0 420.8,432.5 419.9,434.5 418.1,438.0 417.2,440.0 416.9,441.5 416.8,442.5 416.9,443.0 417.2,444.0 417.5,444.5 418.2,445.5 419.6,447.0 421.2,448.5 L411.2,448.5 412.8,447.0 414.2,445.5 414.9,444.5 415.2,444.0 415.6,443.0 415.6,442.5 415.6,441.5 415.2,440.0 414.4,438.0 412.5,434.5 411.6,432.5 411.2,431.0 411.0,429.5 411.1,427.5 411.3,426.0 411.8,424.0 412.2,422.5 413.0,420.5 413.7,419.0 414.9,417.0 415.9,415.5Z M438.6,403.3 438.8,408.3 439.2,414.8 439.5,416.8 440.4,422.3 440.6,423.8 440.7,425.3 440.6,426.8 440.4,428.3 439.4,433.3 439.1,435.3 439.0,437.3 439.1,438.8 439.2,439.8 439.5,440.8 439.8,441.8 440.5,443.3 441.8,445.8 443.6,448.5 L433.2,448.5 434.9,445.8 436.3,443.3 436.9,441.8 437.3,440.8 437.5,439.8 437.7,438.8 437.8,437.3 437.6,435.3 437.3,433.3 436.3,428.3 436.1,426.8 436.1,425.3 436.1,423.8 436.3,422.3 437.3,416.8 437.5,414.8 438.0,408.3 438.2,403.3Z M460.7,407.8 461.5,414.3 461.6,416.8 461.7,419.3 461.6,424.3 461.1,434.8 461.0,437.8 461.1,438.8 461.2,439.8 461.5,440.8 461.9,441.8 462.3,442.8 463.4,444.8 465.7,448.5 L455.3,448.5 457.6,444.8 458.7,442.8 459.2,441.8 459.6,440.8 459.8,439.8 460.0,438.8 460.0,437.8 460.0,434.8 459.4,424.3 459.3,419.3 459.4,416.8 459.6,414.3 460.3,407.8Z M482.7,409.5 483.1,414.5 484.0,420.0 484.3,423.0 484.4,425.0 484.3,427.5 483.9,432.5 483.6,435.0 483.2,437.0 483.2,437.5 483.3,438.5 483.5,439.5 483.8,440.5 485.1,444.0 485.7,445.0 486.3,446.0 487.0,447.0 488.2,448.5 L477.2,448.5 478.4,447.0 479.1,446.0 479.7,445.0 480.2,444.0 481.6,440.5 481.9,439.5 482.1,438.5 482.2,437.5 482.2,437.0 481.8,435.0 481.5,432.5 481.1,427.5 481.0,425.0 481.1,423.0 481.4,420.0 482.2,414.5 482.7,409.5Z" fill="#c4082a" stroke="#1e1e1e" stroke-width="0.55" stroke-linejoin="round"/>
<path d="M317.5,420.9 317.6,447.9 322.0,448.4 322.0,448.5 L313.0,448.5 313.0,448.4 317.4,447.9 317.4,420.9Z M339.7,414.2 339.7,447.7 343.8,448.2 344.1,448.5 L335.1,448.5 335.4,448.2 339.6,447.7 339.6,414.2Z M361.9,417.5 361.9,448.0 366.3,448.5 L357.3,448.5 361.7,448.0 361.8,417.5Z M384.0,434.4 384.0,447.9 388.4,448.4 388.5,448.5 L379.5,448.5 379.5,448.4 383.9,447.9 383.9,434.4Z M406.2,418.9 406.2,447.9 410.6,448.4 410.6,448.5 L401.6,448.5 401.6,448.4 406.1,447.9 406.1,418.9Z M450.5,412.4 450.5,447.9 454.9,448.4 454.9,448.5 L445.9,448.5 446.0,448.4 450.4,447.9 450.4,412.4Z M472.6,414.2 472.7,447.7 476.8,448.2 477.1,448.5 L468.1,448.5 468.4,448.2 472.5,447.7 472.5,414.2Z M494.8,415.9 494.8,447.9 499.2,448.4 499.2,448.5 L490.2,448.5 490.3,448.4 494.7,447.9 494.7,415.9Z M504.9,404.3 504.9,447.8 509.2,448.3 509.3,448.5 L500.3,448.5 500.5,448.3 504.8,447.8 504.8,404.3Z" fill="#888" stroke="#6a6a6a" stroke-width="0.6" stroke-linejoin="round"/>
<text transform="translate(192.8,458.5) rotate(-45)" font-size="6.55" text-anchor="end" fill="#333">Hematopoietic stem cells</text>
<text transform="translate(215.0,458.5) rotate(-45)" font-size="6.55" text-anchor="end" fill="#333">Multilineage progenitors</text>
<text transform="translate(237.1,458.5) rotate(-45)" font-size="6.55" text-anchor="end" fill="#333">LMPP</text>
<text transform="translate(259.3,458.5) rotate(-45)" font-size="6.55" text-anchor="end" fill="#333">Myeloid progenitors</text>
<text transform="translate(281.4,458.5) rotate(-45)" font-size="6.55" text-anchor="end" fill="#333">Erythroid progenitors</text>
<text transform="translate(303.6,458.5) rotate(-45)" font-size="6.55" text-anchor="end" fill="#333">Megakaryocyte progenitors</text>
<text transform="translate(325.7,458.5) rotate(-45)" font-size="6.55" text-anchor="end" fill="#333">NK cells</text>
<text transform="translate(347.9,458.5) rotate(-45)" font-size="6.55" text-anchor="end" fill="#333">CLP/pre-B1</text>
<text transform="translate(370.1,458.5) rotate(-45)" font-size="6.55" text-anchor="end" fill="#333">Pro-B2</text>
<text transform="translate(392.2,458.5) rotate(-45)" font-size="6.55" text-anchor="end" fill="#333">Pro-B3</text>
<text transform="translate(414.4,458.5) rotate(-45)" font-size="6.55" text-anchor="end" fill="#333">Pro-B4/pre-BI</text>
<text transform="translate(436.5,458.5) rotate(-45)" font-size="6.55" text-anchor="end" fill="#333">Pre-BII large</text>
<text transform="translate(458.7,458.5) rotate(-45)" font-size="6.55" text-anchor="end" fill="#333">Pre-BII small</text>
<text transform="translate(480.8,458.5) rotate(-45)" font-size="6.55" text-anchor="end" fill="#333">Late-stage</text>
<text transform="translate(503.0,458.5) rotate(-45)" font-size="6.55" text-anchor="end" fill="#333">Immature</text>
<rect x="0.5" y="0.5" width="519" height="523" fill="none" stroke="#555" stroke-width="1.2"/>
</svg>
</body></html>
